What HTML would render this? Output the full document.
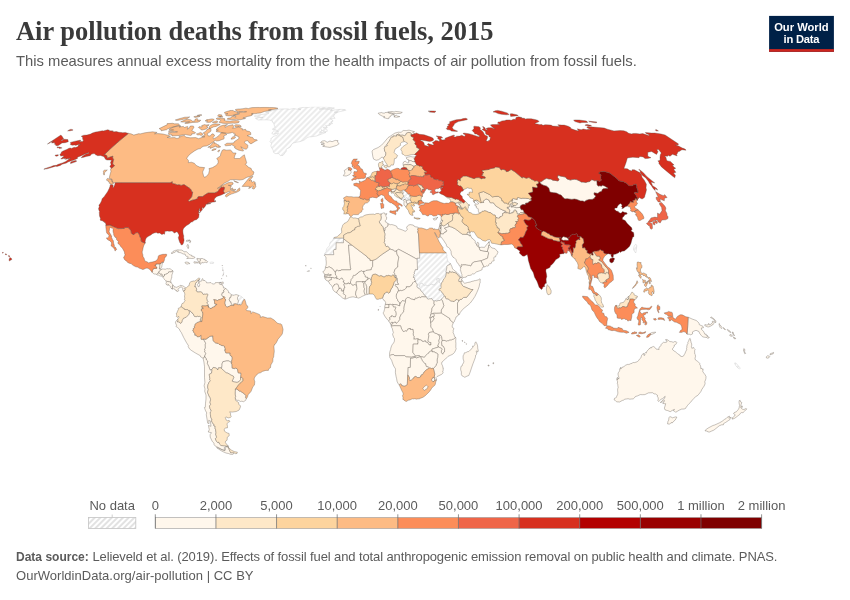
<!DOCTYPE html>
<html lang="en">
<head>
<meta charset="utf-8">
<title>Air pollution deaths from fossil fuels, 2015</title>
<style>
html,body{margin:0;padding:0;background:#fff;}
body{width:850px;height:600px;overflow:hidden;position:relative;font-family:"Liberation Sans",sans-serif;}
svg{position:absolute;left:0;top:0;}
text{font-family:"Liberation Sans",sans-serif;}
.title{font-family:"Liberation Serif",serif;font-weight:bold;font-size:26.4px;fill:#3a3a3a;}
.sub{font-size:14.8px;fill:#5b5b5b;}
.leg{font-size:13px;fill:#5b5b5b;}
.foot{font-size:13px;fill:#5b5b5b;}
#map path{stroke:#5a5048;stroke-width:0.35;stroke-linejoin:round;}
#map path.n{stroke:#d0d0d0;stroke-width:0.5;}
</style>
</head>
<body>
<svg width="850" height="600" viewBox="0 0 850 600">
<defs>
<pattern id="h" patternUnits="userSpaceOnUse" width="4" height="4" patternTransform="rotate(-45)">
<rect width="4" height="4" fill="#fff"/><line x1="0" y1="1" x2="4" y2="1" stroke="#e2e2e2" stroke-width="1.25"/>
</pattern>
<pattern id="h2" patternUnits="userSpaceOnUse" width="4" height="4" patternTransform="rotate(-45)">
<rect width="4" height="4" fill="#fff"/><line x1="0" y1="1" x2="4" y2="1" stroke="#d6d6d6" stroke-width="1.4"/>
</pattern>
<clipPath id="mc"><rect x="0" y="106.8" width="850" height="370"/></clipPath>
</defs>
<rect width="850" height="600" fill="#fff"/>
<text class="title" x="16" y="40.3" textLength="477.5" lengthAdjust="spacingAndGlyphs">Air pollution deaths from fossil fuels, 2015</text>
<text class="sub" x="16" y="66.2" textLength="620.8" lengthAdjust="spacing">This measures annual excess mortality from the health impacts of air pollution from fossil fuels.</text>
<g id="logo">
<rect x="769.1" y="15.9" width="64.8" height="35.9" fill="#002147"/>
<rect x="769.1" y="49.1" width="64.8" height="2.7" fill="#ce261e"/>
<text x="801.4" y="30.6" text-anchor="middle" font-size="11.2" font-weight="bold" fill="#fff" textLength="54.5" lengthAdjust="spacing">Our World</text>
<text x="801.5" y="42.6" text-anchor="middle" font-size="11.2" font-weight="bold" fill="#fff" textLength="36" lengthAdjust="spacing">in Data</text>
</g>
<g id="map" clip-path="url(#mc)">
<path class="n" fill="url(#h)" d="M343.7,238.1L343.6,239.1L343.5,242.8L336.2,242.7L336.1,249.4L334,249.6L333.4,250.9L333.8,254.7L324.9,254.7L324.4,255.5L324.5,254.4L324.7,253.2L325.5,252.5L326.3,251.2L326.2,250.3L327,248.4L328.3,246.8L329.1,246.4L329.7,244.8L329.8,243.4L330.7,241.8L332.2,240.9L333.7,238.2L333.6,238.1Z"/>
<path class="n" fill="url(#h)" d="M446.3,252.9L447.1,255.5L446.7,256L447.1,258.7L448.1,261.8L449,262.4L450.3,263.4L449.3,264.9L447.6,265.3L446.9,266.1L446.8,267.8L446,271.7L446.3,272.7L446,275L445.2,277.5L443.8,278.8L442.9,280.8L442.7,281.9L441.6,282.6L441,285.4L441,285.7L440.7,285.6L440.7,284.3L440.4,283.4L439.2,282.4L438.9,280.5L439.1,278.6L438,278.4L437.9,279L436.5,279.1L437.1,279.9L437.3,281.5L436.1,282.9L435,284.8L433.8,285L431,284.1L429.6,285.3L427.3,285.8L426.9,285.3L425.3,285.2L424.5,285.7L423.8,285.5L422.6,283.9L422.2,283.2L420.6,283.6L419.9,284.8L419.4,287.1L418.6,287.6L417.9,287.9L417.7,287.8L416.9,287L416.8,286.2L417.1,285.1L417.1,284L415.7,282.4L415.4,281.3L415.5,280.7L414.6,279.9L414.6,278.4L414.1,277.4L413.3,277.5L413.5,276.5L414,275.5L413.7,274.4L414.5,273.6L414,273L414.6,271.4L415.5,269.4L417.5,269.6L417.1,259.3L417.1,258.2L419.7,258.2L419.5,252.9L428.5,252.9L437.3,252.9Z"/>
<path class="n" fill="url(#h)" d="M417.9,287.9L418.6,287.6L419.4,287.1L419.9,284.8L420.6,283.6L422.2,283.2L422.6,283.9L423.8,285.5L424.5,285.7L425.3,285.2L426.9,285.3L427.3,285.8L429.6,285.3L431,284.1L433.8,285L435,284.8L436.1,282.9L437.3,281.5L437.1,279.9L436.5,279.1L437.9,279L438,278.4L439.1,278.6L438.9,280.5L439.2,282.4L440.4,283.4L440.7,284.3L440.7,285.6L441,285.7L441,285.4L441.1,287.7L440.8,288.5L439.6,288.6L438.8,290.1L440.2,290.3L441.4,291.5L441.8,292.6L442.9,293.2L444.3,296L442.8,297.7L441.4,299.3L440,300.5L438.4,300.5L436.5,301.1L435,300.5L434.1,301.2L432,299.5L431.5,298.4L430.2,298.9L429.1,298.8L428.5,299.2L427.5,298.9L426.1,296.7L425.7,295.9L424,294.9L423.3,293.3L422.4,292.2L420.8,290.8L420.8,289.9L419.5,288.9L417.9,287.9Z"/>
<path class="n" fill="url(#h)" d="M636.7,246.7L636.2,250.9L635.7,253L634.1,250.8L633.4,248.9L634.2,246.3L635.6,244.3L636.8,245.1Z"/>
<path class="n" fill="url(#h)" d="M212.4,262.1L213.5,262.3L213.9,262.8L213.2,263.4L211.5,263.4L210.2,263.5L210.2,262.4L210.5,262Z"/>
<path class="n" fill="url(#h)" d="M298.8,108.2L304,107.3L308.7,107.4L310.8,106.8L315.6,106.7L321,106.8L326.3,106.9L330.3,107.5L334.4,108.1L331.7,108.7L326.4,108.7L318.9,108.9L319.4,109.2L324.4,109L328.4,109.5L331.3,109.1L332.2,109.6L330.4,110.6L334.2,110L341.1,109.3L345.2,109.6L345.9,110.3L339.9,111.5L339,111.9L334.3,112.2L337.6,112.3L335.6,113.6L334.1,114.8L333.7,117L335.2,118.2L332.8,118.3L330.1,118.9L332.7,120L332.7,121.7L331,121.8L332.6,123.6L329.1,123.8L330.7,124.6L330.1,125.3L327.8,125.7L325.5,125.7L327.2,127.1L327,128L324,127.1L323.1,127.7L325.1,128.2L327,129.5L327.2,131.3L324.2,131.7L323.1,130.9L321.4,129.6L321.6,131.1L319.4,132.2L323.7,132.3L326,132.4L321.1,134.3L316.2,136.1L311,136.8L309.2,136.9L307.2,137.7L304.1,140.1L299.9,141.7L298.7,141.8L296.2,142.3L293.6,142.9L291.6,144.3L291,145.9L289.7,147.4L286.1,149.3L286.3,151.1L284.8,153.1L283.1,155.4L280.5,155.6L278.4,153.6L274.8,153.6L273.5,152.3L273.1,150L271.2,147.1L270.9,145.6L271.5,143.5L270,141.4L271.4,139.7L270.6,139L273.5,136.3L276.4,135.5L277.5,134.6L278.6,132.9L276.3,133.7L275.3,134L273.6,134.3L271.9,133.6L272.5,132.1L273.8,130.9L275.3,130.9L278.4,131.5L276.2,130.1L275.2,129.4L273.4,129.7L272.3,129.2L275.2,127.2L274.6,126.4L274.2,124.9L273.6,122.8L272.1,122L272.7,121.1L269.4,120L266.2,119.8L262.1,119.9L258.3,120L257,119.4L255.4,118.2L259.9,117.6L263,117.5L257,117L254.3,116.2L255.3,115.4L261.7,114.5L267.8,113.6L269,113L265.7,112.3L267.5,111.6L273.5,110.5L275.7,110.3L275.7,109.6L279.4,109.1L283.9,108.9L288.1,108.9L289.3,109.4L293.6,108.5L296.5,109.1L298.3,109.2L300.9,109.7L298.1,108.9Z"/>
<path class="n" fill="url(#h)" d="M222.1,267.8L223,267.6L222.7,268.6Z"/>
<path class="n" fill="url(#h)" d="M223.2,271.6L223.9,272L223.7,272.7Z"/>
<path class="n" fill="url(#h)" d="M406,192L407.4,192.6L407.6,193.6L408.9,194.4L409.5,193.8L410.1,194.1L409.6,194.6L410.1,195L409.6,195.6L409.9,196.5L411,197.7L410.3,198.5L410.1,199.3L410.3,199.6L410,200L409,200L408.3,200.1L408.2,200L408.5,199.6L408.7,199L408.3,199L407.9,198.6L407.5,198.4L407.2,198L406.8,197.9L406.5,197.5L406.1,197.6L405.9,198.5L405.4,198.7L405.6,198.5L404.7,197.9L404,197.7L403.7,197.3L403.1,196.9L403.6,196.7L403.8,195.5L402.7,194.5L403.1,193.4L402.3,193.4L403,192.4L402.3,191.7L401.7,190.7L403.2,190L404.5,190.2L405.7,191.2Z"/>
<path class="n" fill="url(#h)" d="M406.4,201.1L406.1,200.2L405.6,200L405.1,199.3L405.4,198.7L405.9,198.5L406.1,197.6L406.5,197.5L406.8,197.9L407.2,198L407.5,198.4L407.9,198.6L408.3,199L408.7,199L408.5,199.6L408.2,200L408.3,200.1L407.9,200.2L406.7,200.7L406.6,201.2Z"/>
<path class="n" fill="url(#h)" d="M404.5,199.5L404.4,199L403.6,200.3L403.8,201.1L403.3,200.9L402.7,200.1L401.7,199.5L401.9,199.1L402.1,197.7L402.7,197.1L403.1,196.9L403.7,197.3L404,197.7L404.7,197.9L405.6,198.5L405.4,198.7L405.1,199.3Z"/>
<path class="n" fill="url(#h)" d="M738,365.5L739.4,367.1L740.3,368.3L739.2,368.9L738.2,368.2L736.9,367L735.8,365.6L734.8,363.8L734.7,362.9L735.6,363L736.7,363.8L737.4,364.7Z"/>
<path class="n" fill="url(#h)" d="M238.7,295.4L241.2,296.3L243.6,298.5L243.9,299.5L242.5,301.9L241.8,303.9L240.9,304.9L239.8,305L239.5,304.3L239,304.2L238.2,304.9L237.2,304.4L237.2,304.4L237.8,303.3L238.1,302.1L238.5,300.9L237.6,299.4L237.5,297.6L238.7,295.4Z"/>
<path fill="#fff7ec" d="M384,231.2L382.9,226.6L381.5,225.5L381.5,224.9L379.7,223.3L379.4,221.3L380.7,219.9L381.2,217.7L380.8,215.3L381.2,213.9L383.5,212.9L385,213.2L385,214.5L386.8,213.5L386.9,214L385.9,215.3L385.9,216.5L386.7,217.2L386.5,219.4L385.1,220.7L385.6,222.1L386.7,222.2L387.3,223.4L388.2,223.8L388.1,225.8L387.1,226.6L386.4,227.4L384.9,228.4L385.2,229.5L385,230.6Z"/>
<path fill="#fff7ec" d="M419.5,252.9L419.7,258.2L417.1,258.2L417.1,259.3L407.9,254.2L398.7,249.3L396.5,250.7L394.9,251.7L393.6,250.2L390,249.1L389,247.4L387.2,246.2L386.2,246.7L385.3,245.3L385.2,244.1L383.9,242.3L384.7,241.2L384.5,239.5L384.8,238.1L384.6,236.9L384.9,234.8L384.8,233.6L384,231.2L385,230.6L385.2,229.5L384.9,228.4L386.4,227.4L387.1,226.6L388.1,225.8L388.2,223.8L390.8,224.8L391.7,224.5L393.5,225L396.5,226.1L397.6,228.4L399.7,229L402.8,230.1L405.2,231.3L406.3,230.7L407.3,229.5L406.6,227.5L407.3,226.2L408.8,225L410.2,224.6L413.3,225.1L414.1,226.3L414.9,226.3L415.6,226.8L417.8,227.1L418.4,227.9L417.7,229.2L418.2,230.3L417.7,231.9L418.5,234L419,243.3Z"/>
<path fill="#fff7ec" d="M324.4,255.5L324.9,254.7L333.8,254.7L333.4,250.9L334,249.6L336.1,249.4L336.2,242.7L343.5,242.8L343.6,238.8L352,245.2L348.5,245.2L349.5,256.5L350.5,267.7L350.9,268.1L350.4,269.9L341.2,269.9L340.9,270.5L340,270.4L338.7,270.9L337.1,270.1L336.4,270.2L336,271.7L335.2,272.2L333.7,270.4L332.3,268.5L330.9,267.8L329.8,267L328.5,267.1L327.4,267.6L326.3,267.4L325.5,268.2L325.3,266.9L326,265.6L326.3,263.1L326.1,260.5L325.9,259.2L326.1,257.9L325.6,256.7Z"/>
<path fill="#fff7ec" d="M335.2,272.2L336,271.7L336.4,270.2L337.1,270.1L338.7,270.9L340,270.4L340.9,270.5L341.2,269.9L350.4,269.9L350.9,268.1L350.5,267.7L349.5,256.5L348.5,245.2L352,245.2L359.5,250.9L367.1,256.6L367.7,257.8L369.1,258.5L370.1,259L370.2,260.6L372.7,260.4L372.7,266.4L371.5,268.1L371.3,269.7L369.3,270.1L366.2,270.4L365.3,271.3L363.8,271.4L362.4,271.4L361.8,270.9L360.6,271.3L358.4,272.4L358,273.2L356.2,274.4L355.9,275L354.9,275.6L353.8,275.2L353.2,275.8L352.9,277.6L351,279.8L351.1,280.7L350.4,281.8L350.6,283.3L349.6,283.7L349.1,284L348.7,282.9L348.1,283.2L347.7,283.2L347.3,283.9L345.5,283.9L344.9,283.5L344.6,283.7L343.9,283L344,282.2L343.7,281.9L343.2,282.2L343.3,281.3L343.8,280.6L342.8,279.6L342.6,278.8L342.1,278.2L341.6,278.2L341.1,278.6L340.3,278.9L339.7,279.5L338.7,279.3L338.1,278.6L337.7,278.5L337.1,278.8L336.7,278.8L336.6,277.9L336.7,277.1L336.6,276.1L335.7,275.3L335.3,273.9Z"/>
<path fill="#fff7ec" d="M324.8,274.9L323.8,272.9L322.7,271.9L323.7,271.4L324.9,269.6L325.5,268.2L326.3,267.4L327.4,267.6L328.5,267.1L329.8,267L330.9,267.8L332.3,268.5L333.7,270.4L335.2,272.2L335.3,273.9L335.7,275.3L336.6,276.1L336.7,277.1L336.6,277.9L336.3,278L335,277.8L334.9,278.1L334.4,278.2L332.7,277.5L331.6,277.5L327.4,277.4L326.8,277.7L326,277.6L324.8,278.1L324.4,276.1L326.5,276.1L327.1,275.7L327.5,275.7L328.4,275.1L329.3,275.7L330.3,275.7L331.3,275.1L330.9,274.4L330.1,274.8L329.4,274.8L328.5,274.1L327.8,274.2L327.3,274.8Z"/>
<path fill="#fff7ec" d="M324.4,276.1L324.8,274.9L327.3,274.8L327.8,274.2L328.5,274.1L329.4,274.8L330.1,274.8L330.9,274.4L331.3,275.1L330.3,275.7L329.3,275.7L328.4,275.1L327.5,275.7L327.1,275.7L326.5,276.1Z"/>
<path fill="#fff7ec" d="M328.3,281.6L327.1,280.5L326.1,280.3L325.6,279.6L325.6,279.2L324.9,278.6L324.8,278.1L326,277.6L326.8,277.7L327.4,277.4L331.6,277.5L331.6,278.4L331.3,278.7L331.5,279.6L331.1,279.9L330.6,279.9L330,280.3L329.3,280.3Z"/>
<path fill="#fff7ec" d="M343.6,290.3L342.9,290.3L342.5,291.3L341.8,291.3L341.4,290.7L341.5,289.7L340.6,288.1L340,288.4L339.5,288.4L338.8,288.6L338.9,287.6L338.5,286.9L338.6,286.2L338.1,285.1L337.5,284.1L335.6,284.1L335.1,284.6L334.4,284.7L334.1,285.3L333.8,286L332.5,287.2L331.5,285.6L330.7,284.6L330.1,284.2L329.5,283.7L329.3,282.6L328.9,282L328.3,281.6L329.3,280.3L330,280.3L330.6,279.9L331.1,279.9L331.5,279.6L331.3,278.7L331.6,278.4L331.6,277.5L332.7,277.5L334.4,278.2L334.9,278.1L335,277.8L336.3,278L336.6,277.9L336.7,278.8L337.1,278.8L337.7,278.5L338.1,278.6L338.7,279.3L339.7,279.5L340.3,278.9L341.1,278.6L341.6,278.2L342.1,278.2L342.6,278.8L342.8,279.6L343.8,280.6L343.3,281.3L343.2,282.2L343.7,281.9L344,282.2L343.9,283L344.6,283.7L344.1,283.9L343.9,284.8L344.4,285.9L345,288L344.1,288.3L343.9,288.7L344.1,289.2L344,290.3Z"/>
<path fill="#fff7ec" d="M336.7,292.7L336,292.5L334.4,291.4L333.2,290L332.8,289.1L332.5,287.2L333.8,286L334.1,285.3L334.4,284.7L335.1,284.6L335.6,284.1L337.5,284.1L338.1,285.1L338.6,286.2L338.5,286.9L338.9,287.6L338.8,288.6L339.5,288.4L338.4,289.7L337.3,291.1L337.2,291.8Z"/>
<path fill="#fff7ec" d="M345.2,299L344.6,299L342.3,297.8L340.2,295.8L338.2,294.4L336.7,292.7L337.2,291.8L337.3,291.1L338.4,289.7L339.5,288.4L340,288.4L340.6,288.1L341.5,289.7L341.4,290.7L341.8,291.3L342.5,291.3L342.9,290.3L343.6,290.3L343.5,291.1L343.7,292.4L343.2,293.5L343.9,294.2L344.6,294.4L345.6,295.5L345.6,296.5L345.4,296.8Z"/>
<path fill="#fff7ec" d="M356.4,297.4L355.4,297.4L353.8,296.9L352.3,296.9L349.6,297.4L348,298.1L345.7,299.1L345.2,299L345.4,296.8L345.6,296.5L345.6,295.5L344.6,294.4L343.9,294.2L343.2,293.5L343.7,292.4L343.5,291.1L343.6,290.3L344,290.3L344.1,289.2L343.9,288.7L344.1,288.3L345,288L344.4,285.9L343.9,284.8L344.1,283.9L344.6,283.7L344.9,283.5L345.5,283.9L347.3,283.9L347.7,283.2L348.1,283.2L348.7,282.9L349.1,284L349.6,283.7L350.6,283.3L351.6,283.9L352,284.7L353.1,285.3L353.9,284.6L354.9,284.5L356.5,285.2L357.1,288.9L356.1,291.1L355.5,294.1L356.5,296.3Z"/>
<path fill="#fff7ec" d="M356.5,285.2L354.9,284.5L353.9,284.6L353.1,285.3L352,284.7L351.6,283.9L350.6,283.3L350.4,281.8L351.1,280.7L351,279.8L352.9,277.6L353.2,275.8L353.8,275.2L354.9,275.6L355.9,275L356.2,274.4L358,273.2L358.4,272.4L360.6,271.3L361.8,270.9L362.4,271.4L363.8,271.4L363.7,272.7L364,273.9L365.3,275.6L365.3,276.8L368,277.4L367.9,279.2L367.4,280L366.3,280.2L365.8,281.4L365.1,281.7L363,281.6L362,281.4L361.3,281.8L360.2,281.6L356.3,281.8L356.2,283.2Z"/>
<path fill="#fff7ec" d="M365.4,294.9L361.8,296.5L360.6,297.3L358.5,298.1L356.4,297.4L356.5,296.3L355.5,294.1L356.1,291.1L357.1,288.9L356.5,285.2L356.2,283.2L356.3,281.8L360.2,281.6L361.3,281.8L362,281.4L363,281.6L362.9,282.4L363.8,283.8L363.9,285.7L364.1,287.7L364.6,288.7L364.1,291L364.3,292.4L364.9,294Z"/>
<path fill="#fff7ec" d="M367.3,294.4L365.4,294.9L364.9,294L364.3,292.4L364.1,291L364.6,288.7L364.1,287.7L363.9,285.7L363.8,283.8L362.9,282.4L363,281.6L365.1,281.7L364.8,283.1L365.5,283.8L366.3,284.7L366.4,286L366.8,286.6L366.7,292.6Z"/>
<path fill="#fff7ec" d="M369.2,294L367.3,294.4L366.7,292.6L366.8,286.6L366.4,286L366.3,284.7L365.5,283.8L364.8,283.1L365.1,281.7L365.8,281.4L366.3,280.2L367.4,280L367.9,279.2L368.7,278.5L369.5,278.4L371.3,279.9L371.2,280.8L371.7,282.4L371.3,283.4L371.5,284.1L370.4,285.7L369.7,286.5L369.3,288.2L369.3,289.8Z"/>
<path fill="#fff7ec" d="M367.9,279.2L368,277.4L365.3,276.8L365.3,275.6L364,273.9L363.7,272.7L363.8,271.4L365.3,271.3L366.2,270.4L369.3,270.1L371.3,269.7L371.5,268.1L372.7,266.4L372.7,260.4L375.9,259.2L382.4,254.1L390,249.1L393.6,250.2L394.9,251.7L396.5,250.7L397.1,254.7L398,255.4L398.1,256.3L399,257.1L398.6,258.3L397.8,263.6L397.8,267L394.9,269.4L394,272.9L394.9,273.8L394.9,275.5L396.4,275.6L396.2,276.8L395.5,277L395.5,277.8L395.1,277.9L393.5,275L392.9,274.9L391.2,276.3L389.4,275.6L388.2,275.4L387.5,275.8L386.1,275.7L384.8,276.8L383.6,276.9L380.9,275.6L379.8,276.2L378.6,276.1L377.8,275.2L375.4,274.2L373,274.5L372.4,275.1L372.1,276.5L371.4,277.6L371.3,279.9L369.5,278.4L368.7,278.5Z"/>
<path fill="#fff7ec" d="M396.2,276.8L396.4,275.6L394.9,275.5L394.9,273.8L394,272.9L394.9,269.4L397.8,267L397.8,263.6L398.6,258.3L399,257.1L398.1,256.3L398,255.4L397.1,254.7L396.5,250.7L398.7,249.3L407.9,254.2L417.1,259.3L417.5,269.6L415.5,269.4L414.6,271.4L414,273L414.5,273.6L413.7,274.4L414,275.5L413.5,276.5L413.3,277.5L414.1,277.4L414.6,278.4L414.6,279.9L415.5,280.7L415.4,281.3L414,281.7L412.9,282.8L411.3,285.6L409.1,286.9L406.9,286.7L406.2,286.9L406.5,287.9L405.3,288.8L404.3,289.8L401.4,290.8L400.9,290.2L400.5,290.2L400.1,290.8L398.2,291L398.5,290.3L397.8,288.5L397.4,287.4L396.4,287L395.1,285.5L395.5,284.2L396.6,284.5L397.2,284.3L398.5,284.3L397.2,282L397.3,280.2L397.1,278.5Z"/>
<path fill="#fff7ec" d="M396.2,276.8L397.1,278.5L397.3,280.2L397.2,282L398.5,284.3L397.2,284.3L396.6,284.5L395.5,284.2L395.1,285.5L396.4,287L397.4,287.4L397.8,288.5L398.5,290.3L398.2,291L397,293.7L396.5,294.1L396.3,296.2L396.5,297.3L396.4,298L397.5,299.4L397.7,300.3L398.5,301.7L399.6,302.5L399.7,303.7L399.9,304.5L399.8,305.9L397.9,305.3L396.1,304.6L393.2,304.5L392.9,304.3L391.5,304.7L390.1,304.3L389,304.5L385.3,304.4L385.6,302.4L384.7,300.7L383.6,300.2L383.1,299L382.6,298.6L382.6,297.9L383.2,296.1L384.3,293.6L384.9,293.6L386.3,292L387.2,292L388.5,293.1L390,292.2L390.2,291.1L390.7,290L391.1,288.7L392.3,287.6L392.8,285.8L393.3,285.2L393.6,283.9L394.1,282.2L396.1,280.2L396.2,279.3L396.4,278.8L395.5,277.8L395.5,277Z"/>
<path fill="#fff7ec" d="M398.2,291L400.1,290.8L400.5,290.2L400.9,290.2L401.4,290.8L404.3,289.8L405.3,288.8L406.5,287.9L406.2,286.9L406.9,286.7L409.1,286.9L411.3,285.6L412.9,282.8L414,281.7L415.4,281.3L415.7,282.4L417.1,284L417.1,285.1L416.8,286.2L416.9,287L417.7,287.8L419.5,288.9L420.8,289.9L420.8,290.8L422.4,292.2L423.3,293.3L424,294.9L425.7,295.9L426.1,296.7L425.3,297L423.8,296.9L422.1,296.7L421.2,296.9L420.9,297.5L420.2,297.6L419.2,297.1L416.7,298.4L415.6,298.1L415.3,298.3L414.7,299.9L412.9,299.4L411.2,299.1L409.8,298.1L407.9,297.3L406.6,298.1L405.7,299.4L405.5,301.3L404.1,301.1L402.5,300.7L401.1,302L399.9,304.5L399.7,303.7L399.6,302.5L398.5,301.7L397.7,300.3L397.5,299.4L396.4,298L396.5,297.3L396.3,296.2L396.5,294.1L397,293.7Z"/>
<path fill="#fff7ec" d="M385.3,304.4L389,304.5L389,307.6L385.7,307.6L384.9,307.8L384.5,307.4Z"/>
<path fill="#fff7ec" d="M389,304.5L390.1,304.3L391.5,304.7L392.9,304.3L393.2,304.5L393,305.6L393.6,307L395.4,306.7L395.9,307.3L394.9,310.3L396,311.8L396.3,313.9L396,315.6L395.3,316.9L393.2,316.7L392,315.5L391.8,316.6L390.3,317L389.5,317.6L390.3,319.4L388.6,320.8L386.2,318.2L384.7,316L383.3,313.3L383.4,312.4L383.9,311.6L384.4,309.7L384.9,307.8L385.7,307.6L389,307.6Z"/>
<path fill="#fff7ec" d="M388.6,320.8L390.3,319.4L389.5,317.6L390.3,317L391.8,316.6L392,315.5L393.2,316.7L395.3,316.9L396,315.6L396.3,313.9L396,311.8L394.9,310.3L395.9,307.3L395.4,306.7L393.6,307L393,305.6L393.2,304.5L396.1,304.6L397.9,305.3L399.8,305.9L399.9,304.5L401.1,302L402.5,300.7L404.1,301.1L405.5,301.3L405.4,302.8L404.7,304.2L404.3,305.9L404,308.2L404.1,309.6L403.7,310.6L403.7,311.5L403.4,312.3L401.9,313.6L400.9,314.9L399.8,317.5L399.9,319.6L399.3,320.5L398,321.7L396.6,323.4L395.7,322.9L395.6,322.2L394.3,322.2L393.6,323.1L392.9,322.9L392.1,322L391.4,322.4L390.4,323.6Z"/>
<path fill="#fff7ec" d="M378,309.6L378.6,309.4L378.5,310.3L378,310.3ZM380,306.2L380.2,306L380.2,306.4Z"/>
<path fill="#fff7ec" d="M308.9,270.4L309.4,271.2L308.6,271.5ZM305.4,265.7L306.1,265.5L306.1,266.1ZM307.3,271.5L307.5,271.1L307,271.2ZM310.7,268.1L311.2,268.1L311,268.6Z"/>
<path fill="#fff7ec" d="M434.1,301.2L434,304.3L434.9,304.7L434.2,305.6L433.3,306.3L432.4,307.6L431.9,308.8L431.8,310.9L431.3,311.9L431.2,313.9L430.6,314.6L430.5,316.2L430.2,316.4L429.9,317.8L430.5,319L430.6,322.2L431,324.6L430.8,325.9L431.2,327.4L432.5,328.9L433.7,332.2L432.8,331.9L429.7,332.4L429.1,332.7L428.4,334.3L428.9,335.5L428.4,338.6L428,341.2L428.7,341.7L430.2,342.7L430.9,342.2L431,345L429.2,345L428.3,343.6L427.5,342.4L425.8,342.1L425.3,340.7L423.9,341.5L422,341.2L421.3,340L419.8,339.8L418.8,339.8L418.7,339L417.9,338.9L416.8,338.8L415.4,339.2L414.4,339.1L413.8,339.3L414,336.2L413.3,335.3L413.1,333.7L413.5,332.1L413,331.1L413,329.4L410.2,329.5L410.4,328.5L409.2,328.5L409.1,329L407.7,329.1L407.1,330.6L406.7,331.3L405.5,330.9L404.7,331.3L403.2,331.5L402.3,330.1L401.8,329.3L401.1,327.7L400.6,325.8L393.8,325.7L393,326L392.3,326L391.4,326.3L391.1,325.5L391.7,325.2L391.7,324.1L392.1,323.4L392.9,322.9L393.6,323.1L394.3,322.2L395.6,322.2L395.7,322.9L396.6,323.4L398,321.7L399.3,320.5L399.9,319.6L399.8,317.5L400.9,314.9L401.9,313.6L403.4,312.3L403.7,311.5L403.7,310.6L404.1,309.6L404,308.2L404.3,305.9L404.7,304.2L405.4,302.8L405.5,301.3L405.7,299.4L406.6,298.1L407.9,297.3L409.8,298.1L411.2,299.1L412.9,299.4L414.7,299.9L415.3,298.3L415.6,298.1L416.7,298.4L419.2,297.1L420.2,297.6L420.9,297.5L421.2,296.9L422.1,296.7L423.8,296.9L425.3,297L426.1,296.7L427.5,298.9L428.5,299.2L429.1,298.8L430.2,298.9L431.5,298.4L432,299.5Z"/>
<path fill="#fff7ec" d="M400.6,325.8L401.1,327.7L401.8,329.3L402.3,330.1L403.2,331.5L404.7,331.3L405.5,330.9L406.7,331.3L407.1,330.6L407.7,329.1L409.1,329L409.2,328.5L410.4,328.5L410.2,329.5L413,329.4L413,331.1L413.5,332.1L413.1,333.7L413.3,335.3L414,336.2L413.8,339.3L414.4,339.1L415.4,339.2L416.8,338.8L417.9,338.9L418.1,339.8L417.8,341L418.2,342.2L417.8,343.2L418,344.1L413.2,344.1L412.9,352.4L414.4,354.5L415.8,356.2L411.6,357.2L406.1,356.9L404.6,355.6L395.3,355.7L395,355.9L393.7,354.7L392.2,354.6L390.8,355.1L389.7,355.6L389.5,353.9L389.9,351.6L390.7,349.3L390.8,348.1L391.6,345.8L392.2,344.7L393.5,343L394.2,341.8L394.5,339.9L394.4,338.4L393.7,337.5L393.1,335.9L392.6,334.4L392.7,333.8L393.4,332.8L392.7,330.3L392.3,328.5L391.2,326.8L391.4,326.3L392.3,326L393,326L393.8,325.7ZM391.7,325.2L391.1,325.5L390.4,323.6L391.4,322.4L392.1,322L392.9,322.9L392.1,323.4L391.7,324.1Z"/>
<path fill="#fff7ec" d="M438.3,334.5L439.3,335.7L439.9,337.9L439.5,338.6L438.9,340.7L439.3,342.9L438.6,343.8L437.8,346.2L439,346.9L432,349.1L432.1,350.9L430.4,351.3L429,352.3L428.7,353.2L427.9,353.4L425.8,355.6L424.5,357.3L423.7,357.3L423,357L420.5,356.7L420.1,356.5L420.1,356.3L419.2,355.7L417.7,355.6L415.8,356.2L414.4,354.5L412.9,352.4L413.2,344.1L418,344.1L417.8,343.2L418.2,342.2L417.8,341L418.1,339.8L417.9,338.9L418.7,339L418.8,339.8L419.8,339.8L421.3,340L422,341.2L423.9,341.5L425.3,340.7L425.8,342.1L427.5,342.4L428.3,343.6L429.2,345L431,345L430.9,342.2L430.2,342.7L428.7,341.7L428,341.2L428.4,338.6L428.9,335.5L428.4,334.3L429.1,332.7L429.7,332.4L432.8,331.9L433.7,332.2L434.6,332.8L435.6,333.3L437,333.7Z"/>
<path fill="#fff7ec" d="M442.3,340.5L441.6,342.5L442.1,345.9L442.9,345.8L443.7,346.7L444.6,348.6L444.6,351.9L443.6,352.5L442.8,354.3L441.4,352.7L441.3,350.8L441.9,349.6L441.8,348.6L440.9,347.9L440.2,348.1L439,346.9L437.8,346.2L438.6,343.8L439.3,342.9L438.9,340.7L439.5,338.6L439.9,337.9L439.3,335.7L438.3,334.5L440.5,335L441,335.7L441.7,336.9Z"/>
<path fill="#fff7ec" d="M442.3,340.5L444,340.3L446.7,341L447.3,340.7L448.9,340.6L449.8,339.8L451.2,339.9L453.7,338.9L455.6,337.4L455.9,338.5L455.7,341.1L455.9,343.4L455.8,347.5L456.2,348.8L455.4,350.7L454.4,352.5L452.9,354.1L450.8,355.1L448.1,356.3L445.4,359.1L444.5,359.6L442.8,361.5L441.9,362.1L441.6,363.9L442.6,365.9L442.9,367.4L442.9,368.2L443.3,368.1L443.1,370.7L442.6,371.9L443.2,372.3L442.7,373.4L441.7,374.3L439.9,375.2L437,376.6L436,377.6L436.1,378.7L436.7,378.9L436.4,380.2L434.7,380.2L434.6,379.1L434.3,377.9L434.2,377L434.8,374.1L434.3,372.2L433.4,368.5L435.9,365.6L436.6,363.7L437,363.4L437.3,361.9L437,361.1L437.2,359.2L437.7,357.4L437.9,354L436.7,353.2L435.6,353L435.2,352.4L434.1,351.8L432.2,351.9L432.1,350.9L432,349.1L439,346.9L440.2,348.1L440.9,347.9L441.8,348.6L441.9,349.6L441.3,350.8L441.4,352.7L442.8,354.3L443.6,352.5L444.6,351.9L444.6,348.6L443.7,346.7L442.9,345.8L442.1,345.9L441.6,342.5Z"/>
<path fill="#fff7ec" d="M433.4,368.5L432.2,368.3L431.4,368.6L430.4,368.1L429.4,368.1L428.1,366.9L426.3,366.5L425.7,364.9L425.8,363.9L424.8,363.7L422.4,360.8L421.7,359.3L421.3,358.8L420.5,356.7L423,357L423.7,357.3L424.5,357.3L425.8,355.6L427.9,353.4L428.7,353.2L429,352.3L430.4,351.3L432.1,350.9L432.2,351.9L434.1,351.8L435.2,352.4L435.6,353L436.7,353.2L437.9,354L437.7,357.4L437.2,359.2L437,361.1L437.3,361.9L437,363.4L436.6,363.7L435.9,365.6Z"/>
<path fill="#fff7ec" d="M429.4,368.1L426.2,370L424.1,372L423.2,373.7L422.5,374.7L421.3,374.9L420.8,376.1L420.5,377L419.1,377.6L417.3,377.5L416.2,376.7L415.3,376.4L414.2,377L413.6,378.3L412.5,379L411.3,380.2L409.7,380.5L409.2,379.6L409.5,378L408.3,375.5L407.7,375.1L407.9,367.5L410.2,367.4L410.5,358.1L412.2,358L415.8,357.1L416.6,358.1L418.1,357.1L418.8,357.1L420.1,356.5L420.5,356.7L421.3,358.8L421.7,359.3L422.4,360.8L424.8,363.7L425.8,363.9L425.7,364.9L426.3,366.5L428.1,366.9Z"/>
<path fill="#fff7ec" d="M399.3,385.1L397.8,383.1L397,381.2L396.6,378.6L396.1,376.7L395.4,372.7L395.5,369.6L395.2,368.2L394.3,367.1L393.2,364.9L392.1,361.8L391.6,360.2L389.8,357.6L389.7,355.6L390.8,355.1L392.2,354.6L393.7,354.7L395,355.9L395.3,355.7L404.6,355.6L406.1,356.9L411.6,357.2L415.8,356.2L417.7,355.6L419.2,355.7L420.1,356.3L420.1,356.5L418.8,357.1L418.1,357.1L416.6,358.1L415.8,357.1L412.2,358L410.5,358.1L410.2,367.4L407.9,367.5L407.7,375.1L407.3,384.7L405.2,386.1L404,386.3L402.7,385.8L401.7,385.6L401.3,384.5L400.5,383.7Z"/>
<path fill="#fff7ec" d="M434.7,380.2L434.2,381.4L432.8,381.7L431.6,380.2L431.6,379.4L432.3,378.4L432.6,377.6L433.2,377.4L434.3,377.9L434.6,379.1Z"/>
<path fill="#fff7ec" d="M476.5,343L477.1,344.1L477.6,345.8L477.8,349L478.3,350.2L478,351.4L477.5,352.2L476.8,350.7L476.3,351.4L476.7,353.4L476.4,354.5L475.7,355.1L475.4,357.3L474.3,360.3L472.9,363.9L471.2,368.9L470,372.5L468.8,375.5L466.9,376.2L464.8,377.3L463.6,376.6L461.9,375.7L461.3,374.3L461.4,372L460.7,369.9L460.7,368L461.2,366.1L462.3,365.7L462.3,364.8L463.5,362.8L463.9,361.2L463.4,359.9L463.1,358.3L463.1,355.9L463.9,354.4L464.4,352.8L465.5,352.7L466.8,352.1L467.7,351.6L468.7,351.6L470.1,350.1L472,348.5L472.8,347.2L472.5,346.1L473.5,346.4L474.8,344.6L474.9,343L475.8,341.8Z"/>
<path fill="#fff7ec" d="M441.2,312.9L441.6,313.2L449.9,318.5L450.1,320L453.3,322.6L452.2,325.8L452.3,327.3L453.8,328.3L453.8,328.9L453.2,330.5L453.3,331.3L453.1,332.6L453.9,334.2L454.7,336.8L455.6,337.4L453.7,338.9L451.2,339.9L449.8,339.8L448.9,340.6L447.3,340.7L446.7,341L444,340.3L442.3,340.5L441.7,336.9L441,335.7L440.5,335L438.3,334.5L437,333.7L435.6,333.3L434.6,332.8L433.7,332.2L432.5,328.9L431.2,327.4L430.8,325.9L431,324.6L430.6,322.2L431.6,322L432.4,321.1L433.3,319.7L433.9,319.2L433.9,318.3L433.4,317.7L433.3,316.7L434,316.4L434.1,314.8L433.2,313.4L434,313L436.5,313.1Z"/>
<path fill="#fff7ec" d="M457.6,312.6L458.9,314.8L457.3,315.8L456.7,316.9L455.9,317.1L455.5,319L454.8,320L454.3,321.8L453.3,322.6L450.1,320L449.9,318.5L441.6,313.2L441.2,312.9L441.2,310.1L441.9,309L443,307.3L443.8,305.4L442.8,302.4L442.5,301.1L441.4,299.3L442.8,297.7L444.3,296L445.5,296.5L445.5,297.9L446.3,298.8L448,298.8L450.9,301L451.6,301L452.2,300.9L452.7,301.3L454.2,301.5L454.9,300.4L457,299.3L457.9,300.2L459.5,300.2L457.5,303.1Z"/>
<path fill="#fff7ec" d="M436.5,313.1L434,313L433.2,313.4L431.8,314.2L431.2,313.9L431.3,311.9L431.8,310.9L431.9,308.8L432.4,307.6L433.3,306.3L434.2,305.6L434.9,304.7L434,304.3L434.1,301.2L435,300.5L436.5,301.1L438.4,300.5L440,300.5L441.4,299.3L442.5,301.1L442.8,302.4L443.8,305.4L443,307.3L441.9,309L441.2,310.1L441.2,312.9Z"/>
<path fill="#fff7ec" d="M433.2,313.4L434.1,314.8L434,316.4L433.3,316.7L432.1,316.5L431.3,318L429.9,317.8L430.2,316.4L430.5,316.2L430.6,314.6L431.2,313.9L431.8,314.2Z"/>
<path fill="#fff7ec" d="M430.6,322.2L430.5,319L429.9,317.8L431.3,318L432.1,316.5L433.3,316.7L433.4,317.7L433.9,318.3L433.9,319.2L433.3,319.7L432.4,321.1L431.6,322Z"/>
<path fill="#fff7ec" d="M460,277.6L459.2,276.8L458.2,275.3L457.2,274.4L456.5,273.5L454.5,272.5L452.9,272.4L452.3,271.9L451,272.5L449.6,271.3L449,273.3L446.3,272.7L446,271.7L446.8,267.8L446.9,266.1L447.6,265.3L449.3,264.9L450.3,263.4L451.8,266.4L452.6,268.8L453.9,270.1L457.1,272.6L458.5,274L459.8,275.6L460.5,276.4L461.7,277.2L461,277.9Z"/>
<path fill="#fff7ec" d="M461.7,277.2L462.3,278L462.2,279.1L461,279.7L462,280.5L461.2,281.9L460.6,281.4L460.1,281.6L458.8,281.5L458.7,280.7L458.5,280L459.3,278.8L460,277.6L461,277.9Z"/>
<path fill="#fff7ec" d="M477,280.2L478.3,279.9L479.3,279L480.2,279L480.2,279.7L480.1,281.2L480.2,282.6L479.7,283.5L479.2,286.4L478.2,289.3L476.8,292.6L474.9,296.5L473,299.4L470.4,302.9L468.1,305L464.7,307.7L462.5,309.6L460,312.8L459.5,314.2L458.9,314.8L457.6,312.6L457.5,303.1L459.5,300.2L460.1,299.4L461.6,299.3L463.6,297.4L466.6,297.3L472.9,289.5L471,289.5L463.4,286.4L462.5,285.5L461.6,284.2L460.7,282.8L461.2,281.9L462,280.5L462.7,280.9L463.2,282L464.3,283.1L465.4,283.1L467.6,282.5L470.1,282.1L472,281.3L473.2,281.2L474,280.7L475.3,280.6L476,280.5Z"/>
<path fill="#fff7ec" d="M462.2,340.2L462.6,340.6L462.5,341.5L462.2,341.1ZM464.4,342.1L465,342.3L464.9,342.7ZM466.2,343.6L466.6,343.8L466.4,344.4Z"/>
<path fill="#fff7ec" d="M493,362.6L493.9,362.9L493.5,363.8L492.9,363.7Z"/>
<path fill="#fff7ec" d="M488,365.1L489,365.1L489.1,366L488.1,366Z"/>
<path fill="#fff7ec" d="M495.8,217.3L495.1,215.1L493.5,215L490.5,212.7L488.7,212.4L486.1,211.1L484.5,210.8L483.6,211.3L482.2,211.3L481,212.8L479.2,213.2L478.4,211.4L478.2,208.7L476.3,207.8L476.5,206L475,205.9L475,203.7L477.2,204.3L478.8,203.5L476.9,201.9L476,200.5L474.4,201.1L474.6,203L473.6,201.4L474.3,200.5L476.6,200L478.2,200.7L480.2,202.7L481.2,202.6L483.6,202.5L482.9,201.2L484.5,200.3L485.9,198.8L489.1,200.2L489.8,202.3L490.8,202.8L493,202.7L493.9,203.2L495.6,205.8L498.5,207.6L500.2,208.8L502.8,210.1L505.9,211.2L506.2,212.8L505.6,212.8L504.4,212L504.3,213L502.6,213.5L502.6,215.6L501.6,216.3L500,216.7L499.8,217.9L498.2,218.3Z"/>
<path fill="#fff7ec" d="M512.1,200.1L512.2,199L513.5,198.6L517.2,199.5L517,198L518,197.4L521.4,198.5L522,198.2L525.5,198.3L528.7,198.6L530.1,199.5L531.6,199.9L531.5,200.5L528.6,201.9L528.2,202.9L525.6,203.2L525.4,204.8L523,204.5L521.7,205L520.1,206.2L520.5,206.8L520.1,207.4L516.2,207.8L513.3,207L511,207.2L510.8,205.7L513.3,206.1L513.8,205.3L515.5,205.6L517.7,203.7L514.7,202.4L513.4,203L511.6,202L512.8,200.3Z"/>
<path fill="#fff7ec" d="M513.8,205.3L513.3,206.1L510.8,205.7L511,207.2L513.3,207L516.2,207.8L520.1,207.4L521.3,209.8L522,209.6L523.4,210.2L523.7,211.2L524.4,212.7L522.2,212.7L520.6,212.5L519.6,213.6L518.7,213.9L518.1,214.4L517,213.6L516.7,211.4L516,211.3L516,210.5L514.7,209.9L514,210.8L514,211.8L513.8,212.2L512.5,212.2L512.1,213.4L511.3,212.9L509.9,213.7L509.2,213.4L509.7,210.7L508.8,208.8L507,208.2L507.3,207.1L509.1,207.2L509.7,205.7L509.9,204.1L512.5,203.5L512.4,204.7L513,205.4Z"/>
<path fill="#fff7ec" d="M567.4,237.9L568.5,238.7L568.7,240.3L566.9,240.4L565,240.2L563.6,240.6L561.4,239.6L561.3,239.1L562.3,237.2L563.4,236.5L565.1,237.1L566.3,237.2Z"/>
<path fill="#fff7ec" d="M626.2,298.6L627.1,297.6L629,296.2L628.9,297.4L628.9,299.1L627.8,299L627.3,299.9Z"/>
<path fill="#fff7ec" d="M650.3,333.6L650.6,333L652.6,332.4L654.2,332.3L655,332L655.8,332.3L654.9,333L652.4,334.2L650.4,334.9L650.5,334.1Z"/>
<path fill="#fff7ec" d="M539.6,182.1L541.5,181.6L544.2,179.5L546.6,178.3L548.8,179L550.9,179.1L552.9,180.3L554.9,180.4L558.1,181L559.1,179.2L557.5,177.8L558,175.2L560.9,176.2L562.8,176.5L565.5,177.1L567,179L570.5,180.1L572.1,179.6L574.4,179.3L576.6,179.6L579.3,180.8L581.3,182.1L583.1,182.1L585.9,182.5L587.4,181.9L589.8,181.5L591.6,179.7L593,179.9L594.6,180.8L596.8,180.6L597,182.5L597.2,185L598.3,186.1L599.3,185.8L601.5,186.1L602.5,185.2L604.6,186L607.6,187.8L607.9,188.7L606.1,188.4L603.3,188.8L602.3,189.5L601.8,191.2L599.2,192.2L597.9,193.5L595.5,193L594.2,192.8L594,194.4L595.2,195.4L596,196.3L595,197.1L594.2,198.5L592.2,199.4L589.1,199.5L586.2,200.4L584.3,201.8L583,201L580.5,201L576.7,199.5L574.4,199.1L571.8,199.4L567.2,198.8L564.9,198.9L563,197.4L561,195L559.6,194.7L556.3,193.1L553.4,192.7L550.7,192.3L549.5,191.2L548.9,188.2L546.6,186.2L543.2,185.2L540.9,183.9Z"/>
<path fill="#fff7ec" d="M152.2,272.4L152.3,271.7L152.7,271.1L152.4,270.6L153.7,268.4L156.7,268.4L156.8,267.5L156.5,267.4L156.3,266.8L155.5,266.2L154.8,265.3L155.8,265.3L156,263.9L158.1,263.9L160.2,263.9L159.9,265.9L159.4,268.9L160.1,268.9L160.8,269.4L161,269L161.7,269.3L160.5,270.3L159.4,271L159.1,271.6L159.3,272.1L158.7,272.7L158.2,272.9L158.3,273.2L157.8,273.5L157,274.1L156.9,274.5L155.7,274.1L154.3,274L153.3,273.5Z"/>
<path fill="#fff7ec" d="M160.2,263.9L160.2,263.5L160.5,263.4L160.9,263.7L161.9,262.1L162.4,262.1L162.3,262.5L162.7,262.5L162.6,263.2L162.1,264.3L162.3,264.7L161.9,265.7L162,265.9L161.6,267.2L161.1,267.9L160.7,268L160.1,268.9L159.4,268.9L159.9,265.9Z"/>
<path fill="#fff7ec" d="M156.9,274.5L157,274.1L157.8,273.5L158.3,273.2L158.2,272.9L158.7,272.7L159.4,272.9L159.8,273.5L160.5,273.9L160.6,274.2L161.6,273.9L162,274.1L162.3,274.4L162.1,275.5L161.8,276.1L160.4,276L159.6,275.8L158.7,275.2L157.5,275.1Z"/>
<path fill="#fff7ec" d="M163,276.5L162.7,275.7L162.1,275.5L162.3,274.4L162,274.1L161.6,273.9L160.6,274.2L160.5,273.9L159.8,273.5L159.4,272.9L158.7,272.7L159.3,272.1L159.1,271.6L159.4,271L160.5,270.3L161.7,269.3L161.9,269.4L162.5,269L163.1,268.9L163.3,269.1L163.7,269L164.7,269.2L165.8,269.2L166.5,268.9L166.8,268.6L167.5,268.7L168.1,268.9L168.7,268.8L169.2,268.6L170.1,269L170.5,269L171.2,269.5L171.8,270.1L172.5,270.5L173.1,271.2L172.3,271.2L171.9,271.5L171.1,271.9L170.5,271.9L170,272.2L169.6,272.1L169.2,271.7L169,271.8L168.6,272.4L168.4,272.4L168.3,272.9L167.4,273.6L167,273.9L166.7,274.2L166.1,273.7L165.5,274.4L165.1,274.4L164.5,274.5L164.5,275.8L164.1,275.8L163.8,276.4Z"/>
<path fill="#fff7ec" d="M166.3,281.4L165.6,280.6L164.6,279.6L164.2,278.7L163.3,277.9L162.2,276.7L162.5,276.3L162.9,276.7L163,276.5L163.8,276.4L164.1,275.8L164.5,275.8L164.5,274.5L165.1,274.4L165.5,274.4L166.1,273.7L166.7,274.2L167,273.9L167.4,273.6L168.3,272.9L168.4,272.4L168.6,272.4L169,271.8L169.2,271.7L169.6,272.1L170,272.2L170.5,271.9L171.1,271.9L171.9,271.5L172.3,271.2L173.1,271.2L172.9,271.5L172.7,272.1L172.8,273L172.2,273.9L171.9,275L171.7,276.1L171.8,276.8L171.7,278L171.4,278.2L171.1,279.3L171.2,280L170.6,280.7L170.7,281.4L171,281.8L170.4,282.4L169.8,282.2L169.4,281.7L168.7,281.5L168.2,281.8L166.7,281.1Z"/>
<path fill="#fff7ec" d="M172.2,288.9L171,288.3L170.5,287.8L170.8,287.3L170.8,286.8L170.2,286.1L169.3,285.6L168.5,285.3L168.4,284.5L167.8,284L168,284.8L167.5,285.4L167,284.7L166.3,284.5L166,283.9L166,283.1L166.4,282.3L165.8,281.9L166.3,281.4L166.7,281.1L168.2,281.8L168.7,281.5L169.4,281.7L169.8,282.2L170.4,282.4L171,281.8L171.5,283.2L172.3,284.3L173.3,285.4L172.5,285.6L172.4,286.7L172.9,287.1L172.5,287.4L172.6,287.9L172.3,288.4Z"/>
<path fill="#fff7ec" d="M183.8,291.5L183,290.8L182.6,289.4L183.2,288.7L182.6,288.5L182.3,287.6L181.1,286.9L180.1,287.1L179.6,288L178.7,288.6L178.2,288.7L177.9,289.3L178.9,290.7L178.3,291L177.9,291.4L176.8,291.5L176.5,290L176.2,290.4L175.5,290.3L175,289.2L174.1,289L173.5,288.7L172.5,288.7L172.4,289.3L172.2,288.9L172.3,288.4L172.6,287.9L172.5,287.4L172.9,287.1L172.4,286.7L172.5,285.6L173.3,285.4L174.1,286.3L174,286.9L175,287L175.2,286.8L175.8,287.4L176.9,287.3L177.9,286.6L179.4,286.1L180.2,285.3L181.4,285.5L181.3,285.7L182.6,285.8L183.6,286.2L184.3,287L185.2,287.8L184.9,288.1L185.3,289.7L184.9,290.4L184.1,290.3Z"/>
<path fill="#fff7ec" d="M177.6,249.8L179.6,250L181.3,250L183.3,250.9L184.1,251.9L186.2,251.6L187,252.2L188.7,253.8L190,255L190.7,255L192,255.5L191.7,256.2L193.4,256.4L195,257.4L194.6,258L193.1,258.4L191.6,258.5L190,258.3L186.7,258.5L188.4,257.1L187.6,256.4L186.1,256.2L185.5,255.5L185.1,254L183.8,254.1L181.8,253.4L181.2,252.8L178.3,252.4L177.6,251.9L178.5,251.3L176.3,251.1L174.5,252.5L173.6,252.5L173.2,253.2L172,253.5L171.1,253.2L172.4,252.4L173,251.4L174.1,250.9L175.3,250.4L177.1,250.1Z"/>
<path fill="#fff7ec" d="M197.1,258.4L198.5,258.5L200.4,258.9L200.4,260.3L200.2,261.3L199.5,261.8L200.1,262.5L199.9,263.3L198.5,262.8L197.4,263L196,262.8L194.9,263.3L193.8,262.5L194.1,261.7L196.1,262L197.8,262.2L198.7,261.6L197.8,260.5L197.9,259.5L196.5,259.1Z"/>
<path fill="#fff7ec" d="M200.4,258.9L200.7,258.5L202.5,258.5L203.8,259.2L204.4,259.1L204.7,260L205.9,260L205.8,260.7L206.8,260.8L207.8,261.8L206.8,262.8L205.8,262.3L204.8,262.4L204,262.3L203.6,262.7L202.7,262.9L202.4,262.3L201.6,262.7L200.5,264.4L200,264L199.9,263.3L200.1,262.5L199.5,261.8L200.2,261.3L200.4,260.3Z"/>
<path fill="#fff7ec" d="M186.7,262.1L188.2,262.3L189.4,263L189.7,263.7L188.1,263.7L187.3,264.2L186.1,263.7L184.9,262.8L185.3,262.2L186.2,262Z"/>
<path fill="#fff7ec" d="M188.5,248.3L187.9,248.5L187.6,247L186.8,246.2L187.5,244.6L188.2,244.7L188.7,246.8ZM189,241L186.4,241.4L186.5,240.4L187.5,240.2L189,240.3ZM190.8,240.9L190.1,242.8L189.7,242.5L190,241.1L189.2,240.1L189.2,239.8Z"/>
<path fill="#fff7ec" d="M221.4,282.3L222.8,282L223.2,282L223.1,284L221.1,284.3L220.7,284L221.4,283.3Z"/>
<path fill="#fff7ec" d="M338,140.6L337.4,142.1L339.2,143.6L336.7,145.4L331.4,147L329.8,147.4L327.5,147.1L322.7,146.3L324.6,145.3L321,144.2L324.2,143.7L324.2,143.1L320.6,142.5L322.1,141L324.8,140.7L327.2,142.3L330,141L332.1,141.7L335.1,140.4Z"/>
<path fill="#fff7ec" d="M222,265.6L222.5,265.6L222.4,266Z"/>
<path fill="#fff7ec" d="M222.7,269.7L223.2,269.9L222.9,270.6Z"/>
<path fill="#fff7ec" d="M223.4,273.7L223.7,273.8L223.4,274.5Z"/>
<path fill="#fff7ec" d="M222.8,275.5L223,275.7L222.9,276.1Z"/>
<path fill="#fff7ec" d="M226.5,275.7L226.9,276.1L226.5,276.3Z"/>
<path fill="#fff7ec" d="M221.5,278.5L221.8,278.7L221.6,279.1Z"/>
<path fill="#fff7ec" d="M374.4,181.5L374.6,180.1L375.1,180L375.5,180.6L375.4,181.7L374.9,181.7Z"/>
<path fill="#fff7ec" d="M350.9,170.6L351.2,172.4L349.6,174.6L346.1,176.1L343.3,175.7L345,173.1L344.2,170.6L346.9,168.7L348.4,167.5L348.8,168.8L348.3,170.1L349.5,170.1Z"/>
<path fill="#fff7ec" d="M409,130.1L414.6,131.7L412.6,132.3L414.8,133.7L412.2,134.6L410.9,134.8L411.2,133.2L408.9,132.4L406.5,133.1L406,134.7L404.7,135.7L402.7,135.2L400.6,135.3L398.5,134.1L397.6,134.7L396.6,134.8L396.6,136.2L393.3,135.9L393.1,137.1L391.4,137.1L390.5,138.7L389.2,141.2L386.8,144.4L387.5,145.2L387,146.1L385.3,146.1L384.3,148.3L384.7,151.4L386,152.6L385.6,155.4L384.2,157L383.5,158.4L382.2,156.9L378.7,159.7L376.2,160.3L373.6,159.1L372.8,156.5L372,151L373.6,149.5L378.2,147.5L381.6,145.1L384.5,141.9L388.1,137.6L390.7,135.9L394.9,133.1L398.3,132.2L401.1,132.3L403.2,130.5L406.2,130.6ZM399.8,116.6L396.7,117.3L393.9,116.9L394.8,116.4L393.7,115.8L396.7,115.4L397.5,116.1ZM389.3,113.1L394.4,114.4L391,115.2L390.5,116.6L389.2,117L388.9,118.6L387.1,118.6L383.6,117.5L384.9,116.8L382.5,116.2L379.4,114.6L378.1,113.2L381.9,112.5L382.8,113.1L384.8,113.1L385.2,112.5L387.3,112.4ZM399.2,111.8L402.3,112.4L400.5,113.4L396.3,113.6L392,113.3L391.6,112.8L389.5,112.8L387.8,112L392,111.5L394.2,111.9L395.5,111.4Z"/>
<path fill="#fff7ec" d="M408.7,161L408.7,159.6L408.1,159.8L406.7,159L406.3,157.6L408.6,156.9L410.8,156.6L412.9,157L414.8,156.9L415.2,157.3L414.1,158.7L415.1,161L414.5,161.8L412.9,161.7L411.1,160.8L410.2,160.6Z"/>
<path fill="#fff7ec" d="M403.2,165.3L403,163.4L403.7,161.9L405.4,161.1L407.2,162.9L408.7,162.8L408.7,161L410.2,160.6L411.1,160.8L412.9,161.7L414.5,161.8L415.5,162.3L415.9,163.5L416.8,164.9L414.9,165.9L413.8,166.3L411.7,165.1L410.7,165L410.3,164.4L408.5,164.7L405.3,164.5Z"/>
<path fill="#fff7ec" d="M391.3,189.2L393,189.4L394,188.8L395.8,188.7L396.1,188.3L396.5,188.3L396.9,189.2L395.4,189.9L395.2,190.9L394.5,191.2L394.6,191.9L393.8,191.8L393.1,191.4L392.7,191.8L391.3,191.8L391.7,191.5L391.2,190.4Z"/>
<path fill="#fff7ec" d="M406.4,201.1L406.2,202L406.6,203.1L407.5,203.8L407.5,204.5L406.9,204.8L406.8,205.7L405.9,206.9L405.6,206.8L405.5,206.2L404.2,205.3L403.9,204.1L404,202.3L404.2,201.5L403.8,201.1L403.6,200.3L404.4,199L404.5,199.5L405.1,199.3L405.6,200L406.1,200.2Z"/>
<path fill="#fff7ec" d="M406.4,201.1L406.6,201.2L406.7,200.7L407.9,200.2L408.3,200.1L409,200L410,200L411.1,200.8L411.5,202.5L411.1,202.6L410.8,203L409.6,203L408.9,203.6L407.5,203.8L406.6,203.1L406.2,202Z"/>
<path fill="#fff7ec" d="M691.4,346.3L691.9,348.4L693.6,347.4L694.1,348.5L695.1,349.5L694.6,350.7L694.7,353L694.8,354.2L695.3,354.6L695.5,356.8L695,358.1L695.4,359.9L697.5,361.3L698.8,362.5L700.1,363.7L699.7,364.3L700.6,365.9L700.8,368.8L701.8,368.2L702.5,369.3L703.1,368.9L702.8,371.7L704,373.3L704.8,374.3L706,376.4L705.9,378.5L705.5,380L704.8,381.6L705.1,383.8L704.1,386.1L703.2,387.4L701.7,389.7L701.1,391.2L699.8,393L697.8,395.4L695.5,396.7L693.7,398.7L692.4,400L690.6,402.3L689.1,403.6L687.5,405.5L686.2,407.3L685.9,408.2L684.1,409L681.7,409.1L679.1,410.2L677.5,411.2L675.6,412.3L674.5,411.2L673.4,410.7L674.5,409.4L673.1,409.9L670.2,411.7L668.7,411L667.7,410.6L666.6,410.4L664.9,409.7L664.4,408.1L665,406.1L665.7,403.7L664.6,403.7L662.7,403.4L664,402.2L664.4,400.2L662.5,402L660.3,402.5L662.1,401.1L663.1,399.5L664.6,398.3L665.2,396.3L662.5,398.6L660.7,399.4L658.9,401.5L657.7,400.5L658.4,399.1L657.9,397.2L657.1,396.2L657.8,395.6L655.6,394L654.1,393.9L652.5,392.7L648.4,392.9L644.9,394.6L642.4,394.7L640.3,394.6L637.5,395.9L635.4,396.5L634.4,397.9L633.2,398.9L631.3,399L629.8,399.2L628.1,398.7L626.4,399L624.8,399.2L623,400.5L622.4,400.4L621,401.2L619.6,402L618.1,401.9L616.7,401.9L615,400.2L614,399.7L614.6,398.2L615.8,397.9L616.4,397.3L616.7,396.3L617.6,394.5L617.9,393L617.6,390.3L617.7,388.8L618.2,387.4L617.8,385.7L618,384.9L617.3,383.9L617.6,381.8L616.8,379.7L616.8,378.6L617.5,379.8L617.3,377.3L618.3,378.1L618.7,379.1L619,377.8L618.3,375.7L618.3,374.9L617.9,374.1L618.4,372.6L619,371.9L619.6,370.6L619.6,369.1L620.9,367.2L620.7,369.2L622,367.4L624,366.6L625.3,365.4L627.2,364.5L628.2,364.3L628.8,364.6L630.8,363.6L632.2,363.3L632.6,362.7L633.3,362.5L634.5,362.6L637.1,361.8L638.5,360.7L639.3,359.3L640.9,357.9L641.2,356.9L641.5,355.5L643.4,353.3L644,355.5L645.1,355L644.5,353.8L645.4,352.5L646.3,353.1L646.9,351.1L648.3,349.8L649,348.7L650.2,348.3L650.4,347.6L651.4,347.9L651.5,347.2L652.5,346.8L653.7,346.5L655.2,347.7L656.3,349.2L657.7,349.3L659.1,349.5L658.8,348.1L660.2,346L661.3,345.3L661.1,344.6L662.3,343.2L663.7,342.2L664.9,342.5L666.9,342L667,340.7L665.4,339.8L666.7,339.5L668.1,340.1L669.2,341.2L671.1,341.8L671.8,341.6L673.1,342.4L674.5,341.6L675.3,341.9L675.9,341.4L676.8,342.7L676,344.1L675,345.1L674.2,345.2L674.3,346.2L673.5,347.5L672.5,348.8L672.5,349.6L674.1,351L675.7,351.9L676.7,352.8L678.1,354.3L678.8,354.3L679.8,355L680,355.8L682,356.7L683.7,355.8L684.4,354.4L685.1,353.2L685.6,351.8L686.7,349.7L686.5,348.4L686.8,347.7L686.8,346.2L687.4,344.2L687.9,343.7L687.7,342.8L688.4,341.4L689,340L689.1,339.2L690.1,338.3L690.6,339.6L690.6,341.2L691.1,341.5L691.1,342.6L691.7,343.9L691.7,345.4ZM670.9,416.9L672.4,417.8L673.8,417.4L675.7,416.9L676.9,417.1L675.1,420.2L673.8,421.1L672.1,423.1L671.9,422.4L669.2,424.2L668.9,424.1L667.6,424L667.8,421.8L668.7,420.1L668.9,417.8L669.7,416.7Z"/>
<path fill="#fff7ec" d="M739,415L737.2,416.4L734.8,418.2L732.4,419.2L732.5,418.5L731.9,418.2L734.7,416L735.1,414.6L733.5,413.6L734.2,412.6L736.4,411.7L738.1,409.7L739.1,408L739.4,406.3L739.7,405.8L739.4,404.7L739,402.4L739.2,400.6L740.2,400.4L740.5,401.8L741.8,402.5L741,404.8L740.8,407.6L742,405.8L742.5,406.5L741.5,408.5L742.7,409.3L744,409.5L745.9,408.5L746.8,408.9L744.7,411.1L743,412.7L741.4,412.6L740.3,413.4L739.7,414.5ZM716.9,424L719.7,422.7L722.1,421.3L724.5,419.4L725.8,418.8L727.2,417.3L729.5,416.1L729.2,417.2L728.9,418.3L731.1,417.2L730.9,418.3L730.1,419.4L728.4,420.6L725.5,422.5L723.6,423.6L723.4,424.8L721.7,424.8L719.2,425.8L717.2,427.5L713.9,430.1L711.3,431.2L709.6,432L707.8,431.9L707.2,431.1L705.1,430.9L705.5,429.9L708.2,428L712.9,425.5L714.6,425Z"/>
<path fill="#fff7ec" d="M721.8,328.2L721.2,328.5L720.2,327.5L719.4,325.8L719,323.8L719.3,323.6L719.5,324.3L720.2,324.9L721.2,326.6L722.2,327.5ZM713.1,324.7L711.9,324.9L711.5,325.7L710.2,326.3L708.9,326.9L707.7,326.9L705.9,326.2L704.6,325.4L704.9,324.6L706.9,325L708.2,324.8L708.6,323.5L708.9,323.5L709.1,324.8L710.4,324.7L711.1,323.7L712.5,322.8L712.3,321.3L713.7,321.2L714.1,321.7L714,323.1ZM715.9,322.2L715.2,322.9L714.8,321.3L714.4,320.3L713.4,319.4L712.1,318.3L710.5,317.6L711.1,316.9L712.4,317.7L713.1,318.2L714.1,318.9L714.9,320L715.8,320.8ZM701.7,329.7L703.6,331.4L704.8,334.2L706.2,334.1L706,335.2L707.7,335.7L706.9,336.2L709.3,337.3L708.9,338L707.4,338.2L706.9,337.5L704.9,337.3L702.7,336.9L701.1,335.2L699.9,333.8L698.9,331.5L696,330.3L694,331.1L692.5,331.9L692.6,333.9L690.8,334.8L689.5,334.3L687.1,334.2L687.8,325.7L688.2,317.2L692.1,319L696.3,320.5L697.8,321.8L699,323.1L699.3,324.7L703,326.3L703.5,327.7L701.3,328Z"/>
<path fill="#fff7ec" d="M735.2,337.8L735.7,338.7L734.1,338.7L733.4,337L734.7,337.7ZM732.5,336.2L731.6,336.3L730.2,336L729.8,335.6L730,334.5L731.5,335L732.2,335.5ZM734.5,335.5L734.1,335.9L732.6,333.7L732.3,332.1L733.1,332.1L733.7,334.2ZM730.7,332.2L730.7,332.7L729,331.6L727.8,330.6L727,329.8L727.4,329.5L728.4,330.1L730.2,331.3ZM725.5,329.6L725.1,329.7L724.1,329.2L723.2,328.1L723.4,327.6L724.7,328.7Z"/>
<path fill="#fff7ec" d="M745.6,353.4L744.8,353.8L744.3,352.6L744.5,351.9ZM744.8,349.4L744.7,351.5L744.2,351.2L743.6,351.3L743.5,350.6L743.8,348.6Z"/>
<path fill="#fff7ec" d="M769.1,355.7L769.7,356.5L768.9,357.8L767.4,358.2L766.3,357.8L766.4,356.7L767.4,355.8L768.4,356.1ZM771.7,354.3L770.1,354.8L770,353.9L771.3,353.3L772,353.2L773.6,352.4L773.3,353.7Z"/>
<path fill="#fff7ec" d="M455.1,203.1L458,202.7L458.6,203.4L459.5,203.9L459.2,204.5L460.5,205.4L460,206.2L461.1,206.9L462.1,207.4L462.5,209.2L461.7,209.2L460.6,207.7L460.5,207.3L459.6,207.3L458.8,206.6L458.4,206.7L457.4,205.9L455.7,205.3L455.7,204Z"/>
<path fill="#fff7ec" d="M433.1,218.7L434.3,218.6L434.6,218L436.1,218L438,217.2L436.7,218.3L437,219L434.9,220.1L433.8,219.8Z"/>
<path fill="#fff7ec" d="M441.4,223.5L440.9,223.5L440.7,224L440,224L440.5,221.8L441.4,220L441.4,219.9L442.4,220L442.9,221.1L441.8,222.1Z"/>
<path fill="#fff7ec" d="M441.4,225L441.1,225.8L440.3,225.4L440,227.2L440.6,227.5L440,227.8L440,228.5L441,228.1L441.2,229.2L440.5,233.3L438.6,228.9L439.2,228L439,227.8L439.4,226.6L439.7,224.6L439.9,224L440,224L440.7,224L440.9,223.5L441.4,223.5L441.6,224.5L441.3,224.9Z"/>
<path fill="#fff7ec" d="M441.1,225.8L441.3,227.4L441,228.1L440,228.5L440,227.8L440.6,227.5L440,227.2L440.3,225.4Z"/>
<path fill="#fff7ec" d="M441.1,225.8L441.4,225L443.9,226L447.9,223.2L449.2,226.4L448.8,226.8L444.5,228.1L447,230.7L446.3,231.2L446.1,232L444.4,232.4L444,233.3L443.1,234.1L440.6,233.7L440.5,233.3L441.2,229.2L441,228.1L441.3,227.4Z"/>
<path fill="#fff7ec" d="M469.3,232.1L469.9,233.3L469.7,233.8L470.7,235.8L469.1,235.9L468.4,234.7L466.4,234.4L467.8,231.9Z"/>
<path fill="#fff7ec" d="M460.5,267.7L460.2,266.6L459.4,265.8L459.2,264.8L458,263.8L456.6,261.6L455.9,259.5L454.2,257.7L453.1,257.3L451.5,254.8L451.1,253L451.1,251.4L449.6,248.5L448.5,247.5L447.3,247L446.4,245.5L446.5,244.9L445.8,243.5L445.1,242.9L444.1,241L442.5,238.9L441.3,237.1L440.1,237.1L440.4,235.7L440.4,234.8L440.6,233.7L443.1,234.1L444,233.3L444.4,232.4L446.1,232L446.3,231.2L447,230.7L444.5,228.1L448.8,226.8L449.2,226.4L451.9,227.1L455.4,228.9L462.3,234.2L466.4,234.4L468.4,234.7L469.1,235.9L470.7,235.8L471.8,238.1L473,238.7L473.5,239.6L475.1,240.7L475.4,241.8L475.2,242.6L475.6,243.5L476.4,244.2L476.7,245.1L477.1,245.8L477.8,246.2L478.5,246.1L479,247.1L479.1,247.7L480.2,250.3L487.1,251.6L487.5,251.1L488.7,252.9L487.6,258.2L481.1,260.8L474.6,261.8L472.5,262.9L471.1,265.7L470.1,266.1L469.4,265.3L468.6,265.4L466.4,265.1L465.9,264.9L463.3,264.9L462.7,265.2L461.7,264.5L461.2,265.8L461.5,266.9Z"/>
<path fill="#fff7ec" d="M484,266.9L482.4,267.6L482.1,268.8L482.1,269.7L479.9,270.7L476.3,272L474.3,273.8L473.3,274L472.6,273.8L471.4,274.9L469.9,275.4L468,275.5L467.5,275.7L467,276.4L466.4,276.6L466.1,277.2L464.9,277.2L464.2,277.5L462.6,277.4L461.9,275.9L461.9,274.4L461.5,273.7L461,271.7L460.3,270.7L460.8,270.5L460.4,269.3L460.7,268.8L460.5,267.7L461.5,266.9L461.2,265.8L461.7,264.5L462.7,265.2L463.3,264.9L465.9,264.9L466.4,265.1L468.6,265.4L469.4,265.3L470.1,266.1L471.1,265.7L472.5,262.9L474.6,261.8L481.1,260.8L483.2,265.1Z"/>
<path fill="#fff7ec" d="M496.1,255.3L495.5,257L494.4,256.9L494,257.5L493.8,258.8L494.2,260.6L494,260.9L492.9,260.9L491.6,261.9L491.5,263.1L491,263.7L489.6,263.7L488.8,264.3L488.8,265.4L487.8,266.1L486.5,265.9L485.1,266.8L484,266.9L483.2,265.1L481.1,260.8L487.6,258.2L488.7,252.9L487.5,251.1L487.5,250L488,249L487.9,247.9L488.9,247.4L488.5,247L488.5,245.3L489.6,245.3L490.8,247.1L492.2,248L493.9,248.4L495.2,248.8L496.4,250.3L497.1,251.2L497.9,251.6L498,252.1L497.3,253.7L497,254.4ZM489.1,243.2L488.6,242.3L489.1,241.4L489.4,241.7L489.3,242.7Z"/>
<path fill="#fff7ec" d="M479,247.1L479.4,247L479.5,247.7L481.2,247.2L483.1,247.3L484.5,247.4L485.8,245.6L487.3,243.9L488.6,242.3L489.1,243.2L489.6,245.3L488.5,245.3L488.5,247L488.9,247.4L487.9,247.9L488,249L487.5,250L487.5,251.1L487.1,251.6L480.2,250.3L479.1,247.7Z"/>
<path fill="#fff7ec" d="M477.1,245.8L476.8,243.8L477.2,242.5L477.8,242.2L478.6,243L478.8,244.5L478.5,246.1L477.8,246.2Z"/>
<path fill="#fff7ec" d="M199.5,279.6L199.3,280.3L198,280.6L198.7,281.7L198.6,283.1L197.5,284.6L198.2,286.7L199.2,286.5L199.8,284.6L199.2,283.7L199.2,281.7L202.1,280.7L201.8,279.4L202.7,278.6L203.4,280.5L205,280.5L206.4,282L206.5,282.8L208.5,282.8L211,282.6L212.2,283.8L214,284.1L215.3,283.3L215.4,282.6L218.2,282.5L221,282.4L219,283.2L219.7,284.4L221.5,284.6L223.2,285.9L223.5,288L224.7,287.9L225.6,288.5L223.7,290.1L223.5,291L224.2,292L223.6,292.5L222.2,292.9L222.2,294.1L221.6,294.8L223.1,296.8L223.1,296.8L223.4,297.5L222.5,298.5L219.9,299.5L218.2,299.9L217.5,300.6L215.7,299.9L214,299.6L213.6,299.8L214.6,300.5L214.5,302.2L214.8,303.9L216.7,304.1L216.8,304.7L215.2,305.4L214.9,306.5L213.9,306.9L212.2,307.5L211.8,308.3L210,308.5L208.7,307.1L208.7,307.1L208,304.5L207.4,303.6L206.6,303L207.8,301.7L207.7,301.2L207.1,300.4L206.7,298.6L206.9,296.8L207.5,295.9L207.9,294.5L207.1,294L205.8,294.3L204.1,294.2L203.2,294.5L201.7,292.2L200.4,291.9L197.4,292.1L196.9,291.2L196.3,291L196.2,290.5L196.6,289.5L196.4,288.4L195.9,287.9L195.7,286.7L194.5,286.5L195.2,285L195.6,283.1L196.4,282.1L197.3,281.4L198,280.1L199.5,279.6Z"/>
<path fill="#fff7ec" d="M225.6,288.5L227.1,289.5L228.4,291.2L228.5,292.6L229.3,292.6L230.5,293.9L231.4,294.8L231,297.2L229.6,297.8L229.7,298.4L229.2,299.8L230.2,301.7L230.9,301.7L231.2,303.2L232.6,305.4L232.6,305.4L232,305.5L230.7,305.3L230,306L228.9,306.5L228.2,306.6L227.9,307.1L226.8,307L225.4,305.7L225.2,304.5L224.7,303.2L225.1,301L225.7,300.1L225.2,298.9L224.5,298.5L224.8,297.3L224.3,296.7L223.1,296.8L221.6,294.8L222.2,294.1L222.2,292.9L223.6,292.5L224.2,292L223.5,291L223.7,290.1Z"/>
<path fill="#fff7ec" d="M231.4,294.8L234.1,295.3L234.4,294.9L236.3,294.6L238.7,295.4L237.5,297.6L237.6,299.4L238.5,300.9L238.1,302.1L237.8,303.3L237.2,304.4L237.2,304.4L235.9,303.8L234.8,304.1L233.9,303.8L233.7,304.6L234,305.1L233.8,305.6L232.6,305.4L232.6,305.4L231.2,303.2L230.9,301.7L230.2,301.7L229.2,299.8L229.7,298.4L229.6,297.8L231,297.2L231.4,294.8Z"/>
<path fill="#fff7ec" d="M177.8,319.3L178.1,320.4L177.5,321L177.6,322L178.5,321.8L179.5,322L180.5,323.4L181.8,322.3L182.1,320.5L183.5,318.2L186.2,317.2L188.7,314.5L189.4,312.8L189.1,310.8L189.1,310.8L189.7,310.6L191.2,311.8L192,313L193.1,313.7L194.5,316.4L196.2,316.7L197.4,316.1L198.3,316.5L199.7,316.3L201.4,317.5L200,320.2L200.7,320.2L201.9,321.6L201.9,321.6L199.8,321.5L199.5,321.9L197.6,322.4L195.1,324.2L195,325.4L194.4,326.3L194.7,327.7L193.3,328.5L193.4,329.6L192.8,330L193.8,332.4L195.2,334L194.7,335.1L196.3,335.3L197.2,336.7L199.3,336.7L201.1,335.2L201.1,339.2L202.2,339.4L203.4,339L203.4,339L205.7,343.2L205.3,344.1L205.3,345.9L205.4,348.1L204.6,349.5L205.1,350.4L204.6,351.3L205.8,353.5L204.6,356.3L204.6,356.3L204.2,357.7L203.1,358.3L200.6,356.8L200.3,355.7L195.6,353.1L191.2,350.3L189.3,348.7L188.2,346.5L188.5,345.8L186.3,342.3L183.7,337.5L181.2,332.3L180.2,331.1L179.4,329.2L177.6,327.5L175.9,326.4L176.6,325.3L175.4,322.8L176,321Z"/>
<path fill="#fff7ec" d="M203.4,339L205.2,339.2L206.3,339.2L206.8,338.4L208.8,337.3L209.9,336.3L212.9,335.9L212.8,337.9L213.1,338.9L213,340.6L215.6,342.9L218.2,343.4L219.2,344.4L220.8,344.9L221.8,345.6L223.2,345.6L224.6,346.4L224.8,347.9L225.3,348.7L225.4,349.8L224.7,349.8L225.8,352.9L230.2,353L230,354.5L230.3,355.5L231.6,356.2L232.3,357.9L232,359.9L231.5,361.1L231.9,362.6L231.2,363.1L231.2,363.1L231.1,362.3L228.9,361L226.8,360.9L222.9,361.7L222,364L222.1,365.4L221.5,368.5L221.5,368.5L221.1,367.9L218.5,367.8L217.8,370L216.3,368.1L213.3,367.4L211.7,369.8L211.7,369.8L210.1,370.1L208.8,366.5L207.3,363.6L207.7,361.1L206.4,360L205.9,358.1L204.6,356.3L204.6,356.3L205.8,353.5L204.6,351.3L205.1,350.4L204.6,349.5L205.4,348.1L205.3,345.9L205.3,344.1L205.7,343.2L203.4,339Z"/>
<path fill="#fff7ec" d="M221.5,368.5L222.1,365.4L222,364L222.9,361.7L226.8,360.9L228.9,361L231.1,362.3L231.2,363.1L231.2,363.1L232,364.5L232.2,368.1L234.6,368.6L235.5,368.1L237.1,368.8L237.6,369.6L238,372L238.4,373L239.2,373.1L240,372.7L240.9,373.1L241,374.6L240.8,376.1L240.6,377.6L240.6,377.6L240.5,379.9L238.7,381.9L237,382.4L234.4,382L232.1,381.2L233.8,377.3L233.3,376.1L230.9,375.1L228,373.2L226.1,372.8L221.5,368.5Z"/>
<path fill="#fff7ec" d="M235.4,389.3L236.8,389L239.4,391.1L240.2,391L242.7,392.7L244.7,394.1L246.2,395.9L245.5,397.1L246.3,398.6L245.7,400.3L243.5,401.7L241.8,401.2L240.6,401.5L238.4,400.3L237,400.4L235.4,399L235.2,397.3L235.6,396.7L235.1,394.1L235.2,391.4L235.4,389.3Z"/>
<path fill="#fff7ec" d="M204.6,356.3L205.9,358.1L206.4,360L207.7,361.1L207.3,363.6L208.8,366.5L210.1,370.1L211.7,369.8L211.7,369.8L212,370.5L211.5,373.2L209.2,374.4L209.9,378.8L209.6,379.6L210.4,380.7L209.1,382.3L208,384.7L207.6,387.1L208.3,389.6L207.5,392.3L209.4,396.8L210.1,397.3L210.6,399.7L210,402.3L210.6,404.5L209.4,406.1L210,408.5L211.4,411.1L210.3,412L210.4,414.3L210.7,417L212.1,420.1L211.4,420.7L212.9,423.7L214.2,424.6L213.8,425.7L215,426.2L215.5,427.2L214.8,427.7L215.5,429.2L216,432.6L215.7,434.8L216.4,436L216.4,437.7L215.3,438.8L216.6,441.5L217.6,442.4L218.9,442.2L219.6,444.1L221.1,445.5L226,445.9L228,446.3L226.2,446.2L225.5,446.9L224.1,447.8L224.9,450.1L224.1,450.2L221.5,449.3L218.5,447.6L215.4,446.2L214.1,444.6L214,443.1L212.3,441.5L210.2,437.1L210.1,434.7L211.5,432.7L208.2,432L209.3,429.7L208.4,425.4L211,426.3L210.3,421L208.7,420.3L209.1,423.6L207.7,423.2L207.1,419.5L206.3,414.7L206.7,412.9L205.4,410.4L204.4,407.5L205.3,407.3L205.5,403.2L206,399L206,395.1L204.7,391.2L205,389L204.1,385.8L204.9,382.6L204.5,377.6L204.5,372.1L204.5,366.3L203.9,362L203.1,358.3L204.2,357.7ZM228.2,447.1L230.6,452.7L232.7,452.7L233.9,452.7L233.7,453.7L232.4,454.5L231.4,454.4L230.2,454.2L228.4,453.5L226.2,453.1L223.2,451.8L220.6,450.4L216.6,447.6L218.5,448.1L222,449.8L224.9,450.7L225.4,449.6L225.3,447.8L226.7,446.8Z"/>
<path fill="#fee8c8" d="M351.7,217L353,218.1L355.1,217.9L357.3,218.5L358.3,218.5L359.1,220.2L359.2,221.8L360,224.6L360.5,225.1L360.1,226.1L357.2,226.6L356.2,227.5L355,227.8L354.9,229.7L352.3,230.7L351.4,232L349.6,232.7L347.3,233.1L343.7,235.1L343.7,238.1L333.6,238.1L334.9,237.2L337,236.9L338.8,235.1L339.9,234.4L341.8,232.2L341.4,229L342.3,226.7L342.6,225.4L344,223.6L346.3,222.4L347.9,221.3L349.4,218.6L350.1,217Z"/>
<path fill="#fee8c8" d="M343.7,238.1L343.7,235.1L347.3,233.1L349.6,232.7L351.4,232L352.3,230.7L354.9,229.7L355,227.8L356.2,227.5L357.2,226.6L360.1,226.1L360.5,225.1L360,224.6L359.2,221.8L359.1,220.2L358.3,218.5L360.4,217.1L362.7,216.7L364.1,215.6L366.2,214.8L369.8,214.3L373.4,214.1L374.5,214.5L376.5,213.5L378.8,213.5L379.7,214.1L381.2,213.9L380.8,215.3L381.2,217.7L380.7,219.9L379.4,221.3L379.7,223.3L381.5,224.9L381.5,225.5L382.9,226.6L384,231.2L384.8,233.6L384.9,234.8L384.6,236.9L384.8,238.1L384.5,239.5L384.7,241.2L383.9,242.3L385.2,244.1L385.3,245.3L386.2,246.7L387.2,246.2L389,247.4L390,249.1L382.4,254.1L375.9,259.2L372.7,260.4L370.2,260.6L370.1,259L369.1,258.5L367.7,257.8L367.1,256.6L359.5,250.9L352,245.2L343.6,238.8Z"/>
<path fill="#fee8c8" d="M449.6,271.3L451,272.5L452.3,271.9L452.9,272.4L454.5,272.5L456.5,273.5L457.2,274.4L458.2,275.3L459.2,276.8L460,277.6L459.3,278.8L458.5,280L458.7,280.7L458.8,281.5L460.1,281.6L460.6,281.4L461.2,281.9L460.7,282.8L461.6,284.2L462.5,285.5L463.4,286.4L471,289.5L472.9,289.5L466.6,297.3L463.6,297.4L461.6,299.3L460.1,299.4L459.5,300.2L457.9,300.2L457,299.3L454.9,300.4L454.2,301.5L452.7,301.3L452.2,300.9L451.6,301L450.9,301L448,298.8L446.3,298.8L445.5,297.9L445.5,296.5L444.3,296L442.9,293.2L441.8,292.6L441.4,291.5L440.2,290.3L438.8,290.1L439.6,288.6L440.8,288.5L441.1,287.7L441,285.4L441.6,282.6L442.7,281.9L442.9,280.8L443.8,278.8L445.2,277.5L446,275L446.3,272.7L449,273.3Z"/>
<path fill="#fee8c8" d="M506.2,212.8L505.9,211.2L502.8,210.1L500.2,208.8L498.5,207.6L495.6,205.8L493.9,203.2L493,202.7L490.8,202.8L489.8,202.3L489.1,200.2L485.9,198.8L484.5,200.3L482.9,201.2L483.6,202.5L481.2,202.6L478.7,193.1L483.5,191.5L484,191.8L487.7,193.6L489.7,194.6L492.4,196.9L494.7,196.5L498.2,196.3L501.3,198.2L501.9,200.8L503,200.8L504,202.9L506.7,203L507.7,204.2L508.4,204.2L508.8,202.4L511,200.6L512.1,200.1L512.8,200.3L511.6,202L513.4,203L514.7,202.4L517.7,203.7L515.5,205.6L513.8,205.3L513,205.4L512.4,204.7L512.5,203.5L509.9,204.1L509.7,205.7L509.1,207.2L507.3,207.1L507,208.2L508.8,208.8L509.7,210.7L509.2,213.4L507.4,212.8Z"/>
<path fill="#fee8c8" d="M495.8,217.3L498.2,218.3L499.8,217.9L500,216.7L501.6,216.3L502.6,215.6L502.6,213.5L504.3,213L504.4,212L505.6,212.8L506.2,212.8L507.4,212.8L509.2,213.4L509.9,213.7L511.3,212.9L512.1,213.4L512.5,212.2L513.8,212.2L514,211.8L514,210.8L514.7,209.9L516,210.5L516,211.3L516.7,211.4L517,213.6L518.1,214.4L518.7,213.9L519.6,213.6L520.6,212.5L522.2,212.7L524.4,212.7L525,213.4L523.8,213.7L522.9,214.2L520.5,214.5L518.3,215L517.3,216.2L518.1,217.3L518.7,218.6L517.9,219.7L518.2,220.7L517.8,221.6L515.7,221.5L517,223.3L515.7,223.9L515.1,225.5L515.6,227.1L514.9,227.8L514,227.6L512.4,227.9L512.3,228.6L510.6,228.6L509.7,230.1L510,232.3L507.3,233.4L505.7,233.2L505.4,233.8L504,233.4L501.8,233.8L497.9,232.5L499.5,230.1L499,228.4L497.3,228L496.8,226.3L495.7,224.3L496.4,222.8L495.4,222.4L495.6,220.5Z"/>
<path fill="#fee8c8" d="M551.2,290.8L551,293.5L550,294.2L548,294.8L546.9,292.7L546.3,289L547.1,284.7L548.8,286.2L549.9,288Z"/>
<path fill="#fee8c8" d="M603.6,273.1L604.2,272L604,269.7L601.9,267.5L601.4,264.9L599.3,262.8L597.6,262.6L597.2,263.5L595.9,263.6L595.2,263.1L593,264.7L592.6,262.3L592.8,259.6L591.2,259.4L590.8,257.9L589.7,257.1L590.1,256.1L591.7,254.4L592,255L593.2,255.1L592.4,252.1L593.5,251.7L595.2,253.8L596.6,256.1L599.4,256.2L600.6,258.4L599.3,259.2L598.8,260.1L601.7,261.6L604.1,264.7L605.9,267L607.8,268.8L608.6,270.7L608.5,273.3L606.4,272.3L605.6,274.1Z"/>
<path fill="#fee8c8" d="M600.6,282.6L599.5,281.3L598.1,278.6L597.3,275.4L598.5,273.2L601.4,272.7L603.6,273.1L605.6,274.1L606.4,272.3L608.5,273.3L609.3,275L609.3,278.2L605.7,280.2L606.8,281.8L604.4,282L602.5,283Z"/>
<path fill="#fee8c8" d="M595.8,294.2L596,295.5L597.5,295.2L598.2,294.2L598.7,294.4L600.2,296L601.2,297.7L601.4,299.5L601.2,300.7L601.5,301.6L601.7,303.1L602.5,303.8L603.5,306.1L603.5,307L601.8,307.2L599.6,305.3L596.8,303.2L596.5,301.9L595.1,300.1L594.7,297.9L593.8,296.5L594,294.6L593.4,293.5L593.8,293.1ZM636.4,298.7L634.7,299.6L632.7,299.1L630.1,299.1L629.4,302.1L628.5,303L627.4,306.7L625.6,307.2L623.4,306.5L622.3,306.7L620.9,308L619.5,307.8L618,308.4L616.4,306.9L616,305.1L617.7,306.1L619.5,305.6L619.9,303.3L620.8,302.9L623.6,302.3L625.1,300.2L626.2,298.6L627.3,299.9L627.8,299L628.9,299.1L628.9,297.4L629,296.2L630.6,294.4L631.7,292.3L632.6,292.3L633.9,293.6L634,294.8L635.6,295.5L637.5,296.3L637.4,297.3L635.9,297.4Z"/>
<path fill="#fee8c8" d="M379.4,167.9L378.6,166.5L378.4,164L378.7,163.4L379.2,162.6L380.8,162.5L381.4,161.8L382.9,161.1L382.9,162.4L382.4,163.2L382.7,163.9L383.8,164.2L383.4,165.2L382.8,164.9L381.5,166.7L382.1,167.9L380.9,168.2ZM386.6,165.1L387.3,166.3L386.3,168.3L384.2,166.9L383.9,165.9Z"/>
<path fill="#fee8c8" d="M401.6,142.3L400.2,143.9L400.7,145.3L398.2,147.1L395,149.2L394.1,152.5L395.7,154.1L397.6,155.5L396.3,158.2L394.4,158.7L394.1,162.8L393.3,165.1L391,164.9L390.1,166.8L387.9,166.9L387.1,164.6L385.2,161.8L383.5,158.4L384.2,157L385.6,155.4L386,152.6L384.7,151.4L384.3,148.3L385.3,146.1L387,146.1L387.5,145.2L386.8,144.4L389.2,141.2L390.5,138.7L391.4,137.1L393.1,137.1L393.3,135.9L396.6,136.2L396.6,134.8L397.6,134.7L400,135.8L403,137.3L403.7,140.7L404.4,141.6Z"/>
<path fill="#fee8c8" d="M410.9,134.8L411.1,136.3L414,137.8L412.9,139.5L415.5,142.1L414.8,144L416.8,145.8L416.5,147.3L419.5,148.9L419.1,150.1L417.7,151.4L414.5,154.5L411.2,154.7L408.1,155.5L405.2,156L403.9,154.7L402,153.9L402,151.6L400.8,149.5L401.5,148.1L402.8,146.7L406.4,144.2L407.5,143.7L407.1,142.7L404.4,141.6L403.7,140.7L403,137.3L400,135.8L397.6,134.7L398.5,134.1L400.6,135.3L402.7,135.2L404.7,135.7L406,134.7L406.5,133.1L408.9,132.4L411.2,133.2Z"/>
<path fill="#fee8c8" d="M407,169.5L406.8,168.9L406.9,168.2L406,167.8L403.9,167.3L403.2,165.3L405.3,164.5L408.5,164.7L410.3,164.4L410.7,165L411.7,165.1L413.8,166.3L414.2,167.4L412.7,168.2L412.5,169.6L410.5,170.5L408.6,170.5L408.1,169.7Z"/>
<path fill="#fee8c8" d="M401.7,190.7L402.3,191.7L403,192.4L402.3,193.4L401.3,192.8L399.9,192.9L398.1,192.5L397.1,192.5L396.7,193L396,192.5L395.6,193.5L396.7,194.7L397.2,195.5L398.3,196.5L399.1,197L400,198.1L401.9,199.1L401.7,199.5L399.7,198.6L398.4,197.7L396.4,196.9L394.5,195L394.9,194.8L393.9,193.7L393.8,192.8L392.4,192.5L391.9,193.6L391.2,192.7L391.2,191.8L391.3,191.8L392.7,191.8L393.1,191.4L393.8,191.8L394.6,191.9L394.5,191.2L395.2,190.9L395.4,189.9L396.9,189.2L397.6,189.5L399.2,190.6L401,191.1Z"/>
<path fill="#fee8c8" d="M402.3,193.4L403.1,193.4L402.7,194.5L403.8,195.5L403.6,196.7L403.1,196.9L402.7,197.1L402.1,197.7L401.9,199.1L400,198.1L399.1,197L398.3,196.5L397.2,195.5L396.7,194.7L395.6,193.5L396,192.5L396.7,193L397.1,192.5L398.1,192.5L399.9,192.9L401.3,192.8Z"/>
<path fill="#fee8c8" d="M416.9,184.8L417.4,184.4L418.7,184.2L420.3,185L421.1,185.1L422.2,185.8L422.1,186.6L423,187L423.4,188.1L424.2,188.8L424.1,189.1L424.5,189.4L424,189.6L422.8,189.5L422.6,189.2L422.2,189.4L422.4,189.8L421.9,190.6L421.7,191.5L421.2,191.8L420.7,190.6L420.7,189.5L420.5,188.4L419.1,186.9L418.3,185.8L417.6,185.1Z"/>
<path fill="#fee8c8" d="M446.4,197.1L446.6,196.8L448.4,197.2L451.6,197.6L454.7,198.9L455.2,199.4L456.4,198.9L458.4,199.5L459.3,200.5L460.7,201.1L460.3,201.5L461.6,202.9L461.3,203.2L460.2,203.1L458.5,202.3L458,202.7L455.1,203.1L452.9,201.9L450.6,202L450.8,200.9L449.9,199.1L448.5,198.2L447.3,197.9Z"/>
<path fill="#fee8c8" d="M458.4,206.7L458.8,206.6L459.6,207.3L460.5,207.3L460.6,207.7L461.7,209.2L460.2,208.9L458.9,207.7ZM463.1,202.8L464.1,203L464.3,202.3L465.3,201.3L466.7,202.6L468.2,204.5L469.2,204.6L470,205.3L468.3,205.5L468.4,207.5L468.2,208.4L467.5,209L467.8,210.3L467.3,210.5L465.7,209.1L466.2,207.8L465.4,207.1L464.7,207.2L462.5,209.2L462.1,207.4L461.1,206.9L460,206.2L460.5,205.4L459.2,204.5L459.5,203.9L458.6,203.4L458,202.7L458.5,202.3L460.2,203.1L461.3,203.2L461.6,202.9L460.3,201.5L460.7,201.1L461.3,201.2Z"/>
<path fill="#fee8c8" d="M447.9,223.2L443.9,226L441.4,225L441.3,224.9L441.6,224.5L441.4,223.5L441.8,222.1L442.9,221.1L442.4,220L441.4,219.9L441,217.9L441.4,216.8L441.9,216.3L442.4,215.7L442.3,214.2L443.1,214.8L445.4,214L446.6,214.5L448.3,214.5L450.7,213.5L451.8,213.6L454.2,213.2L453.4,214.8L452.3,215.4L452.8,217.3L452.4,220.5Z"/>
<path fill="#fee8c8" d="M461.4,216.4L462.9,217.2L463.3,218.7L462.4,219.6L462.2,221.7L464.1,224.1L467,225.6L468.4,227.6L468.3,229.5L469,229.5L469.2,230.9L470.6,232.2L469.3,232.1L467.8,231.9L466.4,234.4L462.3,234.2L455.4,228.9L451.9,227.1L449.2,226.4L447.9,223.2L452.4,220.5L452.8,217.3L452.3,215.4L453.4,214.8L454.2,213.2L455.1,212.8L457.7,213.1L458.5,213.8L459.5,213.3Z"/>
<path fill="#fee8c8" d="M185.2,287.8L186.3,287.8L188.2,286L189.1,285.7L189.2,284.9L189.7,282.7L191.1,281.5L192.6,281.4L192.8,280.9L194.6,281.1L196.5,279.8L197.4,279.2L198.6,277.9L199.4,278.1L199.9,278.8L199.5,279.6L198,280.1L197.3,281.4L196.4,282.1L195.6,283.1L195.2,285L194.5,286.5L195.7,286.7L195.9,287.9L196.4,288.4L196.6,289.5L196.2,290.5L196.3,291L196.9,291.2L197.4,292.1L200.4,291.9L201.7,292.2L203.2,294.5L204.1,294.2L205.8,294.3L207.1,294L207.9,294.5L207.5,295.9L206.9,296.8L206.7,298.6L207.1,300.4L207.7,301.2L207.8,301.7L206.6,303L207.4,303.6L208,304.5L208.7,307.1L208.7,307.1L208.3,307.4L207.8,305.9L207.2,305.1L206.4,306L201.9,305.9L202,307.6L203.3,307.8L203.2,308.8L202.8,308.5L201.4,309L201.4,310.9L202.5,311.8L202.8,313.3L202.8,314.5L201.9,321.6L201.9,321.6L200.7,320.2L200,320.2L201.4,317.5L199.7,316.3L198.3,316.5L197.4,316.1L196.2,316.7L194.5,316.4L193.1,313.7L192,313L191.2,311.8L189.7,310.6L189.1,310.8L189.1,310.8L188.1,310.2L187,309.3L186.3,309.7L184.4,309.4L183.8,308.2L183.4,308.3L181.1,306.8L180.8,306L181.6,305.8L181.6,304.5L182.1,303.5L183.3,303.3L184.3,301.7L185.2,300.3L184.3,299.7L184.8,298.2L184.4,295.8L184.9,295.1L184.6,292.9L183.8,291.5L184.1,290.3L184.9,290.4L185.3,289.7L184.9,288.1Z"/>
<path fill="#fee8c8" d="M181.1,306.8L183.4,308.3L183.8,308.2L184.4,309.4L186.3,309.7L187,309.3L188.1,310.2L189.1,310.8L189.1,310.8L189.4,312.8L188.7,314.5L186.2,317.2L183.5,318.2L182.1,320.5L181.8,322.3L180.5,323.4L179.5,322L178.5,321.8L177.6,322L177.5,321L178.1,320.4L177.8,319.3L179,317.3L178.5,316.2L177.6,317.4L176.2,316.3L176.7,315.5L176.3,313.2L177.1,312.8L177.5,311.1L178.4,309.5L178.2,308.4L179.5,307.8Z"/>
<path fill="#fee8c8" d="M211.7,369.8L213.3,367.4L216.3,368.1L217.8,370L218.5,367.8L221.1,367.9L221.5,368.5L221.5,368.5L226.1,372.8L228,373.2L230.9,375.1L233.3,376.1L233.8,377.3L232.1,381.2L234.4,382L237,382.4L238.7,381.9L240.5,379.9L240.6,377.6L240.6,377.6L241.6,377.1L242.9,378.6L243.1,380.7L241.4,382.2L240.1,383.2L237.9,385.8L235.4,389.3L235.4,389.3L235.2,391.4L235.1,394.1L235.6,396.7L235.2,397.3L235.4,399L235.5,400.3L238.7,402.6L238.7,404.4L240.3,405.5L240.5,406.8L239.1,410.1L236.3,411.5L232.1,412.1L229.7,411.8L230.5,413.3L230.6,415.3L231.3,416.6L230.3,417.5L228.2,417.9L225.9,416.9L225.3,417.6L226.3,420.2L228,420.9L228.9,420.1L229.9,421.5L228.2,422.3L227,423.9L227.5,426.5L227.4,427.9L225.5,427.9L224.3,429.2L224.4,431.1L227,432.9L229.1,433.5L229.2,435.8L227.3,437.2L227.1,440.2L225.6,441.2L225.3,442.3L227,444.9L228.9,446.4L228,446.3L226,445.9L221.1,445.5L219.6,444.1L218.9,442.2L217.6,442.4L216.6,441.5L215.3,438.8L216.4,437.7L216.4,436L215.7,434.8L216,432.6L215.5,429.2L214.8,427.7L215.5,427.2L215,426.2L213.8,425.7L214.2,424.6L212.9,423.7L211.4,420.7L212.1,420.1L210.7,417L210.4,414.3L210.3,412L211.4,411.1L210,408.5L209.4,406.1L210.6,404.5L210,402.3L210.6,399.7L210.1,397.3L209.4,396.8L207.5,392.3L208.3,389.6L207.6,387.1L208,384.7L209.1,382.3L210.4,380.7L209.6,379.6L209.9,378.8L209.2,374.4L211.5,373.2L212,370.5L211.7,369.8ZM228.2,447.1L229.5,448.3L231.2,450.1L234.4,451.6L237.4,452.2L237,453.5L235.2,453.6L233.9,452.7L232.7,452.7L230.6,452.7Z"/>
<path fill="#fdd49e" d="M382.6,297.9L380.2,298.9L379.3,298.8L378.4,299.3L376.6,299.3L375.4,297.6L374.6,295.7L373,294L371.2,294L369.2,294L369.3,289.8L369.3,288.2L369.7,286.5L370.4,285.7L371.5,284.1L371.3,283.4L371.7,282.4L371.2,280.8L371.3,279.9L371.4,277.6L372.1,276.5L372.4,275.1L373,274.5L375.4,274.2L377.8,275.2L378.6,276.1L379.8,276.2L380.9,275.6L383.6,276.9L384.8,276.8L386.1,275.7L387.5,275.8L388.2,275.4L389.4,275.6L391.2,276.3L392.9,274.9L393.5,275L395.1,277.9L395.5,277.8L396.4,278.8L396.2,279.3L396.1,280.2L394.1,282.2L393.6,283.9L393.3,285.2L392.8,285.8L392.3,287.6L391.1,288.7L390.7,290L390.2,291.1L390,292.2L388.5,293.1L387.2,292L386.3,292L384.9,293.6L384.3,293.6L383.2,296.1Z"/>
<path fill="#fdd49e" d="M512.1,200.1L511,200.6L508.8,202.4L508.4,204.2L507.7,204.2L506.7,203L504,202.9L503,200.8L501.9,200.8L501.3,198.2L498.2,196.3L494.7,196.5L492.4,196.9L489.7,194.6L487.7,193.6L484,191.8L483.5,191.5L478.7,193.1L481.2,202.6L480.2,202.7L478.2,200.7L476.6,200L474.3,200.5L473.6,201.4L473.3,200.7L473.6,199.6L473,198.7L470.3,197.9L468.8,195.5L467.5,194.9L467.3,194.1L469.4,194.3L469,192.4L470.6,192L472.5,192.4L472.2,189.9L471.4,188.3L469.4,188.4L467.5,187.8L465.4,188.9L463.7,189.5L462.5,189.1L462.4,187.7L460.7,186L459.2,186.1L457.1,184.4L457.7,182.5L457,181.9L457.9,179.2L460.4,180.6L460.1,178.8L463.4,176.1L466.5,176L471.4,177.7L474.1,178.7L475.9,177.7L479,177.6L482,178.9L482.3,178.2L485.1,178.3L485.2,177.1L481.4,175.4L482.8,174.2L482.2,173.5L483.8,172.8L481.8,171.1L482.3,170.3L489.3,169.4L489.9,168.8L494.4,167.9L495.6,166.9L499.3,167.4L501.1,170L502.9,169.3L505.8,170.2L506.2,171.6L508,171.4L511.8,169.1L511.5,169.8L514.9,171.8L522.3,178.1L522.7,176.8L526.2,178.3L528.7,177.6L530,178.1L531.7,179.5L533.3,180L534.7,181.1L537.1,180.7L538.9,182.3L538.1,184L536.5,184.2L537.6,186.8L536.9,187.9L532.5,187.1L533,191.7L532.1,192.2L528.4,193.3L532,197.7L530.8,198.4L531.6,199.9L530.1,199.5L528.7,198.6L525.5,198.3L522,198.2L521.4,198.5L518,197.4L517,198L517.2,199.5L513.5,198.6L512.2,199Z"/>
<path fill="#fdd49e" d="M344,201.1L344.8,200.4L345.6,200.1L346.1,201.3L347.4,201.3L347.7,201L349,201.1L349.5,202.4L348.5,203.1L348.4,205.1L348.1,205.5L347.9,206.7L347,206.9L347.8,208.5L347.2,210.2L347.9,211L347.6,211.7L346.8,212.6L346.9,213.5L346,214.2L344.9,213.8L343.8,214.1L344.2,212.1L344,210.5L343.1,210.2L342.6,209.2L342.8,207.5L343.7,206.6L343.9,205.5L344.4,204L344.4,202.9L344,202Z"/>
<path fill="#fdd49e" d="M368,177.4L369.6,176.9L371,177.1L372.8,176.6L374.2,177.7L375.3,178.3L375.1,180L374.6,180.1L374.4,181.5L372.6,180.3L371.6,180.5L370.2,179.3L369.2,178.3L368.3,178.3Z"/>
<path fill="#fdd49e" d="M369.6,176.9L370.6,176.2L372.2,172.6L374.8,171.5L376.5,171.6L376.9,172.4L376.5,174.7L376,175.7L374.8,175.7L375.3,178.3L374.2,177.7L372.8,176.6L371,177.1Z"/>
<path fill="#fdd49e" d="M382.5,186.6L382.6,187L382.4,187.7L383.3,188.1L384.3,188.2L384.2,189.3L383.3,189.7L381.8,189.4L381.4,190.4L380.4,190.5L380.1,190.1L379,190.9L378,191L377.1,190.5L376.3,189.4L375.4,189.8L375.4,188.6L376.8,187.2L376.7,186.6L377.6,186.8L378.2,186.3L379.9,186.4L380.3,185.8Z"/>
<path fill="#fdd49e" d="M397.4,185.1L397.4,186.1L396.2,186.1L396.7,186.7L396.1,188.3L395.8,188.7L394,188.8L393,189.4L391.3,189.2L388.3,188.5L387.8,187.6L385.8,188.1L385.6,188.6L384.3,188.2L383.3,188.1L382.4,187.7L382.6,187L382.5,186.6L383.1,186.5L384.2,187.2L384.4,186.5L386.3,186.6L387.7,186.1L388.7,186.2L389.3,186.7L389.5,186.3L389.1,184.6L389.8,184.3L390.4,183.1L392,184L393,182.9L393.7,182.7L395.4,183.5L396.3,183.4L397.3,183.9L397.2,184.2Z"/>
<path fill="#fdd49e" d="M400.9,181.6L401,181.7L401.8,181.4L402.9,182.3L404.1,181.7L405,182L406.4,181.6L408.5,182.6L408,183.3L407.7,184.3L407.3,184.6L405,183.8L404.4,184L404,184.5L403.1,184.9L402.8,184.7L401.9,185.1L401.1,185.2L401,185.7L399.3,186L398.5,185.7L397.4,185.1L397.2,184.2L397.3,183.9L397.5,183.3L398.4,183.3L399.1,183.1L399.1,182.8L399.5,182.7L399.6,182.2L400,182L400.3,181.6Z"/>
<path fill="#fdd49e" d="M418.6,203.5L418.2,203.8L416.9,203.8L415.8,203.5L413.2,204.2L414.9,205.6L413.8,206.1L412.6,206.1L411.4,204.7L411.1,205.3L411.7,206.8L412.9,208.1L412.1,208.6L413.4,209.8L414.5,210.6L414.7,212L412.7,211.4L413.4,212.7L412,213L413.1,215.3L411.6,215.3L409.8,214.2L408.8,212.1L408.3,210.4L407.3,209.2L406.1,207.7L405.9,206.9L406.8,205.7L406.9,204.8L407.5,204.5L407.5,203.8L408.9,203.6L409.6,203L410.8,203L411.1,202.6L411.5,202.5L413,202.6L414.6,201.9L416.2,202.8L418.1,202.5L418,201.2L419.1,201.9ZM414.4,217.1L415.7,218L417.3,217.9L419,218.1L419,218.5L420.1,218.2L419.9,219L416.8,219.2L416.8,218.8L414.1,218.2Z"/>
<path fill="#fdd49e" d="M410.1,195L410.8,196.1L411.6,195.9L413.2,196.3L416.3,196.4L417.3,195.8L419.6,195.2L421.3,196.1L422.5,196.4L421.6,197.5L421,199.3L421.9,200.8L420.1,200.4L418,201.2L418.1,202.5L416.2,202.8L414.6,201.9L413,202.6L411.5,202.5L411.1,200.8L410,200L410.3,199.6L410.1,199.3L410.3,198.5L411,197.7L409.9,196.5L409.6,195.6Z"/>
<path fill="#fdd49e" d="M479.2,213.2L481,212.8L482.2,211.3L483.6,211.3L484.5,210.8L486.1,211.1L488.7,212.4L490.5,212.7L493.5,215L495.1,215.1L495.8,217.3L495.6,220.5L495.4,222.4L496.4,222.8L495.7,224.3L496.8,226.3L497.3,228L499,228.4L499.5,230.1L497.9,232.5L499.2,233.9L500.4,235.4L502.7,236.6L503.1,238.9L504.2,239.3L504.5,240.5L501.5,241.9L501,244.9L496.7,244.1L494.2,243.5L491.6,243.2L490.3,240L489.2,239.5L487.5,240L485.4,241.2L482.6,240.4L480.1,238.4L477.8,237.6L476,235.1L474,231.6L472.8,232.1L471.3,231.2L470.6,232.2L469.2,230.9L469,229.5L468.3,229.5L468.4,227.6L467,225.6L464.1,224.1L462.2,221.7L462.4,219.6L463.3,218.7L462.9,217.2L461.4,216.4L459.5,213.3L458,211.2L458.2,210.4L457.1,207.4L458.4,206.7L458.9,207.7L460.2,208.9L461.7,209.2L462.5,209.2L464.7,207.2L465.4,207.1L466.2,207.8L465.7,209.1L467.3,210.5L467.8,210.3L468.8,212.3L471,212.8L472.7,214.1L475.9,214.5L479.1,213.8Z"/>
<path fill="#fdbb84" d="M440.5,233.3L439.9,234.4L439.6,236.4L439.1,237.7L438.6,238.2L437.8,237.3L436.8,236.2L434.8,232.4L434.6,232.7L435.8,235.4L437.4,238L439.3,242.1L440.3,243.5L441.1,245L443.3,247.9L442.9,248.4L443.1,250.1L445.8,252.4L446.3,252.9L437.3,252.9L428.5,252.9L419.5,252.9L419,243.3L418.5,234L417.7,231.9L418.2,230.3L417.7,229.2L418.4,227.9L421.4,227.9L423.6,228.6L425.8,229.3L426.9,229.8L428.5,228.9L429.4,228.2L431.3,228L432.9,228.3L433.6,229.6L434,228.7L435.8,229.4L437.6,229.5L438.6,228.9Z"/>
<path fill="#fdbb84" d="M399.3,385.1L400.5,383.7L401.3,384.5L401.7,385.6L402.7,385.8L404,386.3L405.2,386.1L407.3,384.7L407.7,375.1L408.3,375.5L409.5,378L409.2,379.6L409.7,380.5L411.3,380.2L412.5,379L413.6,378.3L414.2,377L415.3,376.4L416.2,376.7L417.3,377.5L419.1,377.6L420.5,377L420.8,376.1L421.3,374.9L422.5,374.7L423.2,373.7L424.1,372L426.2,370L429.4,368.1L430.4,368.1L431.4,368.6L432.2,368.3L433.4,368.5L434.3,372.2L434.8,374.1L434.2,377L434.3,377.9L433.2,377.4L432.6,377.6L432.3,378.4L431.6,379.4L431.6,380.2L432.8,381.7L434.2,381.4L434.7,380.2L436.4,380.2L435.7,382.2L435.3,384.3L434.6,385.5L433,386.8L432.5,387.2L431.5,388.5L430.7,389.9L429.3,391.7L426.6,394.4L424.9,396L423.1,397.2L420.8,398.2L419.7,398.3L419.3,399.1L418,398.7L416.9,399.2L414.6,398.7L413.2,399L412.3,398.8L410,399.9L408.1,400.3L406.7,401.3L405.7,401.4L404.8,400.4L404.1,400.4L403.2,399.2L403.1,399.6L402.9,398.9L403,397.3L402.4,395.6L403.1,395.1L403.1,393.1L401.8,390.7L400.8,388.4Z"/>
<path fill="#fdbb84" d="M559.4,237.6L559.5,238.7L560.1,240.4L560,241.4L558.2,241.4L555.4,240.8L553.6,240.6L552.1,239.3L548.9,238.9L545.7,237.4L543.4,236.2L541,235.2L541.4,232.7L542.6,231.6L543.3,230.9L545.3,231.7L547.9,233.4L549.2,233.8L550.2,235.1L552.1,235.6L554.1,236.7L556.7,237.3Z"/>
<path fill="#fdbb84" d="M588.5,257.7L587.4,258.8L585.8,258.9L585.2,261.7L584.3,262.2L585.7,264.5L587.4,266.4L588.5,268.1L588,270.4L587.3,270.9L587.9,272.2L589.7,274.3L590.1,275.7L590.2,277L591.3,279.3L590.3,281.8L589.4,284.5L589,282.5L589.5,280.5L588.6,279L588.5,276.1L587.5,274.8L586.4,271.6L585.6,268.3L584.3,266.2L583,267.5L580.6,269.4L579.3,269.1L577.8,268.5L578.2,265.3L577.4,262.8L575.2,259.8L575.4,258.9L574,258.5L572.1,256.4L571.6,254.3L572.5,254.7L572.2,252.8L573.3,252.2L572.9,251.1L573.3,250.2L572.9,247.5L574.8,248.1L575.4,245.9L575.3,244.7L576.1,242.5L575.7,241L578.3,239.2L580,239.7L579.4,238L580.1,237.6L579.7,236.6L580.9,236.4L582.1,237.9L583.2,238.5L583.7,240.6L584,242.7L582.3,244.9L582.6,248L584.9,247.6L585.9,250L587.4,250.5L587,252.6L588.9,253.6L589.9,254.1L591.5,253.3L591.7,254.4L590.1,256.1L589.7,257.1Z"/>
<path fill="#fdbb84" d="M638.7,262.1L640.2,262.8L640.8,262.1L641.1,262.8L640.9,263.9L642,265.8L641.8,267.9L640.5,268.8L640.5,270.9L641.3,273L642.6,273.3L643.5,272.9L646.6,274.4L646.5,275.8L647.4,276.4L647.3,277.6L645.3,276.4L644.3,275L643.8,275.9L642.2,274.4L640.2,274.8L638.9,274.2L638.9,273.1L639.5,272.4L638.8,271.8L638.6,272.8L637.3,271.3L636.8,270.1L636.3,267.7L637.4,268.5L637,264.4L637.3,262.1ZM653.6,288.4L654,290.2L654.2,291.6L653.6,294L652.6,291.4L651.6,292.7L652.4,294.6L651.9,295.8L649,294.3L648.3,292.4L648.9,291.2L647.4,289.9L646.7,291L645.6,290.9L644,292.4L643.6,291.6L644.3,289.4L645.7,288.7L646.9,287.7L647.8,288.9L649.5,288.2L649.8,287L651.4,286.9L651.1,284.9L653.1,286.1L653.4,287.5ZM637.1,280.7L637.8,282.8L636.4,284.3L635.3,286.1L632.4,288.5L633.4,286.7L635,285.1L636.2,283.3ZM647.7,277.6L649.9,277.6L650.6,278.6L651.6,281.5L649.8,280.9L649.9,281.7L650.6,283.3L649.6,283.9L649.3,282.1L648.6,282L648.1,280.4L649.5,280.6L649.3,279.6ZM647.7,283.5L646.9,284.4L646.4,286.1L645.7,286.8L644.1,285L644.6,284.3L645.1,283.6L645.2,282L646.4,281.8L646.2,283.6L647.7,281.1ZM642.4,279.3L643.9,280.2L645.4,280.2L645.4,281.2L644.5,282.3L643.1,283.1L642.9,281.9L642.9,280.6ZM638.4,275.2L640.3,275.3L641.3,276.3L640.9,278.5L639.8,277.2Z"/>
<path fill="#fdbb84" d="M344,201.1L344.2,199.3L343.4,198.1L346.4,196.3L348.9,196.7L351.7,196.7L353.9,197.2L355.7,197L359,197.1L359.9,198.1L363.7,199.3L364.5,198.7L366.8,199.9L369.3,199.6L369.4,201.1L367.4,202.8L364.7,203.3L364.5,204.2L363.2,205.6L362.4,207.8L363.2,209.2L362,210.4L361.5,212.1L359.9,212.6L358.4,214.6L355.6,214.7L353.6,214.6L352.2,215.5L351.3,216.5L350.3,216.3L349.5,215.4L348.9,213.9L346.9,213.5L346.8,212.6L347.6,211.7L347.9,211L347.2,210.2L347.8,208.5L347,206.9L347.9,206.7L348.1,205.5L348.4,205.1L348.5,203.1L349.5,202.4L349,201.1L347.7,201L347.4,201.3L346.1,201.3L345.6,200.1L344.8,200.4Z"/>
<path fill="#fdbb84" d="M397.3,183.9L396.3,183.4L395.4,183.5L393.7,182.7L393,182.9L392,184L390.4,183.1L389.2,182.1L388.1,181.4L387.9,180.4L387.5,179.6L388.9,179.1L389.6,178.5L391,178L391.4,177.5L392,177.8L392.8,177.5L393.8,178.3L395.4,178.5L395.3,179.2L396.4,179.7L396.7,179.1L398.1,179.4L398.3,180.2L399.8,180.3L400.9,181.6L400.3,181.6L400,182L399.6,182.2L399.5,182.7L399.1,182.8L399.1,183.1L398.4,183.3L397.5,183.3Z"/>
<path fill="#fdbb84" d="M396.1,188.3L396.7,186.7L396.2,186.1L397.4,186.1L397.4,185.1L398.5,185.7L399.3,186L401,185.7L401.1,185.2L401.9,185.1L402.8,184.7L403.1,184.9L404,184.5L404.4,184L405,183.8L407.3,184.6L407.7,184.3L408.9,185L409.1,185.7L407.9,186.2L407.2,188L406.1,189.7L404.5,190.2L403.2,190L401.7,190.7L401,191.1L399.2,190.6L397.6,189.5L396.9,189.2L396.5,188.3Z"/>
<path fill="#fdbb84" d="M408.6,170.5L410.5,170.5L412.5,169.6L412.7,168.2L414.2,167.4L413.8,166.3L414.9,165.9L416.8,164.9L418.9,165.5L419.3,166.2L420.2,165.9L422.2,166.5L422.6,167.6L422.4,168.3L423.9,169.9L424.8,170.4L424.7,170.8L426.2,171.2L426.8,171.9L426.2,172.5L424.6,172.4L424.3,172.6L424.9,173.4L425.7,175L424,175.2L423.5,175.7L423.6,177L422.8,176.7L421,176.9L420.4,176.3L419.7,176.7L418.9,176.4L417.3,176.3L415,175.7L413,175.5L411.5,175.6L410.5,176.2L409.6,176.3L409.4,175.2L408.6,174.1L409.7,173.6L409.6,172.6L408.9,171.6Z"/>
<path fill="#fdbb84" d="M115.3,182.8L121.1,182.8L127.8,182.8L134.5,182.8L141.2,182.8L147.9,182.8L154.7,182.8L161.4,182.8L171.1,182.8L171.6,181.9L172.3,181.8L172,183.2L173.7,183.8L175.6,184.2L177.2,185L179,184.7L181.2,185.4L184,184.6L189.5,188.2L190.6,189.2L191.3,190.2L191,190.9L192.7,192.1L191.7,196.7L190.5,198.3L188.2,200.6L189.2,201.6L192.2,200.2L194.5,199.8L197.7,198.6L197.8,197L198.9,196.6L202.8,196.6L203.9,195.6L207.1,193.5L208.2,193L215.1,193L215.6,192.4L217.3,191.9L218.4,190.7L219.7,188.7L222,186.8L222.4,187.4L223.9,187L224.6,187.8L223.4,191.3L224.3,192.7L224.4,193.5L226.7,192.4L229.6,191.3L230.1,192.3L226.6,194.1L225.2,196.1L226.5,196.9L229.7,194.8L231.4,194.1L236,192.5L237.1,192.1L239.6,190.7L240,190L239.6,187.9L238.1,189L236.3,191.4L234.3,191.3L231.9,190.5L230.6,190L230.4,187.9L231.3,185.9L229.4,185.6L228.3,185.3L231.1,185.4L233.1,184.1L233,182.8L231.2,182.2L228.6,182.6L225.5,183.9L221.9,185.6L219,187.9L217.4,188.4L220.2,186.4L222.1,184.9L224.9,182.8L227.8,181.6L230.2,179.8L235.1,179.5L239.5,180.1L243.1,179.5L246.9,177.3L250.1,176.5L253.2,174.8L254,172L251.7,170.3L251.1,168.3L248.4,167.3L247.2,165.8L245.3,164.4L246.7,162.9L245.9,160L244.9,156.9L244.4,154.8L242.6,155.9L239.6,158.5L235.5,158.5L234.1,158.1L235,155.2L236.1,153L232.9,152.9L231.4,150.7L230.2,149.9L226.6,150.2L223.9,149.6L222.3,150.2L220.7,153.8L220.4,155.9L216.7,158.5L218,160.4L218.2,162.4L217.5,164.1L215.5,165.8L212.5,167.6L208.9,168.6L209.5,170L208.6,173.8L206.3,176.5L204.4,177.3L203.6,176L202.6,172L204.6,167.6L199.6,167.1L196.2,165.4L194.3,163.2L191.3,162.2L188.3,162.7L188.6,160.7L186.7,158.3L188.7,155.4L190.9,153.5L194.5,150.9L198,149L200.5,148.6L201.7,147.2L203.8,146.2L206.4,146L209.7,144.4L213.8,141.4L215.2,140.3L216.6,141L219.2,140.7L222.2,139.4L223.5,139.2L224.3,138L223.7,136L226.9,134.5L225.6,133.4L222.1,132.8L221.1,132.9L219.1,135.4L216.4,137.4L213.5,138.9L213,137.4L214.7,135.8L213.8,134.3L212,133.8L210.2,136L208,135.8L207.1,133.8L210.6,131.6L211.2,129.9L210.2,128.4L207.1,129.3L205.8,131.4L203.3,132.7L204,134L205.2,134.7L201.7,136.7L204.9,136.7L200.2,138L198.7,138.7L195.7,137.6L190.2,137.8L185.7,137.1L184.4,135.4L179,136.5L179.9,137.4L177,138.5L174.6,137.6L169.8,137.8L167.2,137.4L170.6,136.2L167.7,135.2L162.8,134L157.9,133.6L154.5,133.8L157.1,132.4L152.6,131.8L148.3,132.3L144.8,132.8L139.9,134L139.1,133.6L133.8,135.1L131,133.8L128.4,133.4L120,140.3L111.8,147.5L104,154.9L105.7,155L106.8,155.7L107,156.7L107.1,158.3L110.2,157L112.9,156.2L112.6,157.4L112.9,158.4L113.6,159.5L113.1,161.2L112.6,164L114.5,165.5L113.2,167.1L111.1,168.3L110.5,169.5L111,171.3L110,174.8L109.5,176.8L109.3,178.3L112,179.3L112,181.6L113.4,182.6L115.1,182.8ZM242.1,186.4L245.3,182.6L248.6,178.5L250.5,177L252.9,176.3L252.1,177.8L251.2,178.5L249.1,180.8L250.8,179.9L251.8,180.6L251,181.3L252.5,182.1L253.5,181.4L255.3,182.2L254.2,184.1L255.7,183.6L255.5,185L255.8,186.7L254.3,188.8L253.5,189L252.2,188.4L253.2,186.4L252.8,186L249.8,188.2L248.5,188.2L250.3,186.9L248.5,186.4L246.4,186.4ZM113.2,184.1L112,184.4L109.3,183.3L109.4,182.3L108.1,181.6L108.3,180.8L106.6,180.3L106.8,179L107.4,178.4L109.1,178.9L110,179.3L111.7,179.5L111.8,180.4L112,181.6L113.3,182.7ZM105.3,170.2L107.3,170L104.4,172.8L104.5,174.8L103.7,174.8L103.4,173.7L103.6,172.5L103.3,171.8L103.8,170.7L104.6,169.9ZM257.4,140.3L255.4,141.2L251,143.9L249.4,143L247.8,140.7L245.4,141L244.5,142.3L245.5,143.7L247.4,144.7L247.8,145.3L247.7,147.6L246.3,149.3L244.2,148.8L240.8,146.8L243.5,150.2L243.2,151.1L238.8,150.2L235.8,148.8L234.3,147.6L235.3,146.9L231.5,144.6L231.1,145.3L225.7,145.8L224.6,144.8L226.9,143.2L230.2,143.2L233.9,142.9L233.9,142.1L235.2,141L238.8,138.7L238.9,137.8L238.8,136.9L236.9,135.9L233.9,135.1L235.4,134.6L234.5,133.2L233,133.2L232.3,132.3L231,132.9L227.7,133.4L222.2,132.7L219.1,132.1L216.6,131.8L216,131L218.4,130.1L216.1,130.1L217.5,128L220.5,126.1L222.8,125.3L227.5,124.6L225.1,125.9L225.1,127.4L228.1,125.7L232.9,124.7L233.8,126.9L232.5,128.3L236.1,127.7L238.4,126.8L241,128L242.7,128.8L242.1,129.9L245.6,129.3L246.2,130.8L249.6,131.6L250.6,132.5L250.9,134.5L247.2,135.6L250.4,137L252.7,137.5L254.1,139.6L256.7,139.7ZM171.9,136L172,134.9L170.4,134.3L168.7,134.5L168.5,132.7L169.7,132.5L172.6,132.3L174.9,132.3L177.5,131.8L174.8,131.4L171,131.6L168.7,131.6L168.8,130.8L173.6,129.9L171,129.9L168.9,129.3L171.9,127.8L174,126.9L179.8,125.7L180.9,126.1L179,127L183.4,126.4L184.4,127.5L187.5,126.4L188.1,127.1L187.2,129.2L189,128.3L190.2,126.1L191.8,125.9L193.2,126.1L194.1,126.9L192.9,129.1L191.8,130.6L193.6,131.6L195.6,132.7L194.6,133.6L191.7,133.8L191.9,134.7L190.7,135.5L188,135.1L185.7,134.5L183.6,134.7L179.7,135.4L175.1,135.8ZM166.7,129.7L161.1,130.8L161.3,129.9L159.1,128.6L160.8,127.8L163.8,126.3L167.1,124.8L167.1,123.6L172.8,123.3L174.4,123.8L178.3,123.8L179.1,124.4L179.8,125.3L177,125.9L171.5,127.4L167.7,128.8ZM269.7,107.5L273.2,107.6L275.9,107.8L278,108.3L277.6,108.6L273.6,109.4L269.9,109.7L268.4,110L271.4,110L267.2,111L264.3,111.5L260.6,112.9L257.3,113.3L255.9,113.6L251.4,113.8L253.2,114L251.8,114.4L252.1,115.3L250.2,115.9L247.3,116.5L245.8,117.2L243.2,117.8L243,118.2L245.6,118.2L245.2,118.6L240,119.8L236.5,119.3L231.8,119.6L229.7,119.4L227.1,119.2L227.8,118.3L231.1,117.8L231.8,116.5L233,116.3L235.9,117.2L235.4,115.9L233.3,115.5L235.4,114.8L238.4,114.4L239.6,113.7L238.3,113.1L238.9,112.1L242.7,112.2L243.6,112.3L246.6,111.7L243.6,111.5L238.4,111.7L236.6,111L236.3,110.4L235.2,109.9L235.7,109.4L238.2,109L239.9,109L242.9,108.7L245.6,108.2L247.2,108.3L248.1,108.7L250.3,107.9L252.3,107.6L255,107.5L259.3,107.3L259.8,107.6L264,107.3L266.8,107.3ZM238.9,122.4L237.4,122.9L234.8,123.3L233,123.1L228.1,123.4L224.9,123.4L222.6,123.2L219.2,122.5L219.7,121.4L220.6,120.4L219.9,119.6L217,119.3L216.1,118.7L217.5,117.9L220.5,118L221.5,118.6L224.5,118.6L225.1,119.3L223.9,120L225.2,120.5L225.7,121L227.8,121L229.8,121.2L232.6,120.8L236,120.6L238.3,120.8L239.3,121.5ZM214.7,142.4L214.4,143.5L215.5,143.1L216.1,143.7L217.5,144.5L219.1,145.2L218.5,146.3L220,146.1L220.7,146.9L218.7,147.6L216.3,147.1L216,146L213.4,147.2L210.1,148.4L210.3,147.1L207.8,147.3L210.1,146.1L211.6,144.4L213.6,142.2ZM213.8,126.8L210.5,128.4L208.8,128.3L209.6,126.4L210.6,125.4L212.3,124.5L214.4,124L217.7,124L220.2,124.5L216.1,126.4ZM205.9,129.1L202.4,130L201.1,129.8L200.7,129L198.3,127.4L199,126.7L202.1,126.9L201.7,125.6L204.6,124.6L206,125L209.1,124.7L208.9,125.3L206.5,126.3L208,127.2ZM202.7,134.7L201.1,135.4L199.4,134.8L197.8,135L196.4,134L198.4,133.4L200.5,132.4L201.6,133L202.3,133.4L202.4,133.8ZM197.9,119.8L197.6,120.5L199.4,120.2L200.8,120.2L200,121.2L197.9,122.2L192.2,122.5L187.3,123.4L184.9,123.4L185.4,122.7L189.7,121.8L182.5,122.1L180.7,121.8L185.5,119.8L187.7,119.2L191,119.9L192.3,121.1L194.7,121.2L195,119.3L197.3,118.6ZM214.1,119.6L212.9,120.7L210.5,122.2L207.8,122.4L206.4,122L207.8,120.9L205.1,121L206.8,119.5L208.4,119.6L211.5,118.9L213.5,119.0ZM237.5,113.1L238.6,113.7L235.9,114.3L231.6,115.7L228.8,115.9L226,115.6L225.4,114.8L226.2,114.2L228,113.7L225.3,113.7L224.5,113.1L224.7,112.2L228.4,111L230,110.8L229.9,110.5L233.2,110.4L233.9,111.3L237.7,112.0ZM189.7,116.9L187.3,118.4L185.2,119.1L183.6,119.2L179.6,120.1L176.8,120.4L175.3,120L180,118.5L184.9,117.2L187.2,117.2ZM217.9,115.4L218.8,114.6L220.6,114.7L221.3,114.8L222.2,115.5L221,116.2L218.3,116.6L217.7,116.1ZM222.7,117.2L219.3,117.1L219.6,116.6L222.6,116.6ZM198.7,116.8L195.2,117.4L193.8,116.8L196,116.2L198.4,116L200.1,116.3ZM202,115.1L199.6,115.5L197.2,115.5L197.6,115.2L199.9,114.7L200.6,114.7ZM217.6,122.2L215.9,123L213.8,122.8L212.4,122.4L214.3,121.4L217.1,120.9L217.7,121.6ZM235.3,126.7L234.5,125.6L235.2,124.9L236,124.7L239.5,124.9L241.3,126.1L241,126.7L239.4,126.6L237.7,126.6L235.7,126.9ZM233,139L231.1,139.2L231.4,138.1L232.9,136.8L234.6,136.5L235.6,137.1L235,138.1ZM216,149.3L213.1,150.5L211.9,150.5L211.9,149.9L213.9,148.8L216.3,148.8ZM219.2,150L220,150.5L218.5,151.8L217.8,151.6L217.8,150.9ZM233.7,180.6L238.5,182.6L237.5,182.6L235.1,181.8ZM232.3,187.8L232.6,189.1L234,189.4L235.9,189.4L234.6,190.4L233.8,190.6L231.5,189.5L231.3,188.6Z"/>
<path fill="#fdbb84" d="M243.9,299.5L244.7,299.4L245.3,300.9L246.5,305.4L247.7,305.9L247.8,307.7L246,309.8L246.7,310.6L250.8,311L250.9,313.6L252.7,311.9L255.6,312.9L259.4,314.4L260.5,316L260.2,317.4L262.8,316.6L267.4,318L270.8,317.9L274.2,320.1L277.2,323L279,323.7L281,323.9L281.8,324.7L282.7,328L283.1,329.6L282.3,333.9L281.1,335.6L278,339.2L276.6,342.2L275,344.5L274.5,344.5L273.9,346.4L274.3,351.3L273.8,355.4L273.7,357.1L273,358.1L272.8,361.6L270.8,365L270.5,367.7L268.8,368.8L268.4,370.4L265.9,370.4L262.4,371.4L260.9,372.6L258.5,373.3L256,375.4L254.3,378L254.2,379.9L254.8,381.4L254.6,384L254.3,385.3L252.9,386.7L251.1,391.3L249.4,393.4L248.1,394.6L247.5,397.1L246.3,398.6L245.5,397.1L246.2,395.9L244.7,394.1L242.7,392.7L240.2,391L239.4,391.1L236.8,389L235.4,389.3L235.4,389.3L237.9,385.8L240.1,383.2L241.4,382.2L243.1,380.7L242.9,378.6L241.6,377.1L240.6,377.6L240.6,377.6L240.8,376.1L241,374.6L240.9,373.1L240,372.7L239.2,373.1L238.4,373L238,372L237.6,369.6L237.1,368.8L235.5,368.1L234.6,368.6L232.2,368.1L232,364.5L231.2,363.1L231.2,363.1L231.9,362.6L231.5,361.1L232,359.9L232.3,357.9L231.6,356.2L230.3,355.5L230,354.5L230.2,353L225.8,352.9L224.7,349.8L225.4,349.8L225.3,348.7L224.8,347.9L224.6,346.4L223.2,345.6L221.8,345.6L220.8,344.9L219.2,344.4L218.2,343.4L215.6,342.9L213,340.6L213.1,338.9L212.8,337.9L212.9,335.9L209.9,336.3L208.8,337.3L206.8,338.4L206.3,339.2L205.2,339.2L203.4,339L203.4,339L202.2,339.4L201.1,339.2L201.1,335.2L199.3,336.7L197.2,336.7L196.3,335.3L194.7,335.1L195.2,334L193.8,332.4L192.8,330L193.4,329.6L193.3,328.5L194.7,327.7L194.4,326.3L195,325.4L195.1,324.2L197.6,322.4L199.5,321.9L199.8,321.5L201.9,321.6L201.9,321.6L202.8,314.5L202.8,313.3L202.5,311.8L201.4,310.9L201.4,309L202.8,308.5L203.2,308.8L203.3,307.8L202,307.6L201.9,305.9L206.4,306L207.2,305.1L207.8,305.9L208.3,307.4L208.7,307.1L208.7,307.1L210,308.5L211.8,308.3L212.2,307.5L213.9,306.9L214.9,306.5L215.2,305.4L216.8,304.7L216.7,304.1L214.8,303.9L214.5,302.2L214.6,300.5L213.6,299.8L214,299.6L215.7,299.9L217.5,300.6L218.2,299.9L219.9,299.5L222.5,298.5L223.4,297.5L223.1,296.8L223.1,296.8L224.3,296.7L224.8,297.3L224.5,298.5L225.2,298.9L225.7,300.1L225.1,301L224.7,303.2L225.2,304.5L225.4,305.7L226.8,307L227.9,307.1L228.2,306.6L228.9,306.5L230,306L230.7,305.3L232,305.5L232.6,305.4L232.6,305.4L233.8,305.6L234,305.1L233.7,304.6L233.9,303.8L234.8,304.1L235.9,303.8L237.2,304.4L237.2,304.4L238.2,304.9L239,304.2L239.5,304.3L239.8,305L240.9,304.9L241.8,303.9L242.5,301.9L243.9,299.5Z"/>
<path fill="#fc8d59" d="M525,213.4L526.9,214.6L528.1,216.6L532,217.7L530.4,219.9L528.1,220.3L524.6,219.6L523.9,220.8L525.2,223.1L526.4,224.8L528.4,226.1L526.9,227.6L527.3,229.5L525.7,232.1L524.8,234.8L523,237.5L520.4,237.3L518.3,240L520,241.2L520.5,243.2L522,244.5L522.7,246.8L517.7,246.8L516.5,248.5L514.7,247.9L513.9,246L511.9,244L507.8,244.5L504.2,244.5L501,244.9L501.5,241.9L504.5,240.5L504.2,239.3L503.1,238.9L502.7,236.6L500.4,235.4L499.2,233.9L497.9,232.5L501.8,233.8L504,233.4L505.4,233.8L505.7,233.2L507.3,233.4L510,232.3L509.7,230.1L510.6,228.6L512.3,228.6L512.4,227.9L514,227.6L514.9,227.8L515.6,227.1L515.1,225.5L515.7,223.9L517,223.3L515.7,221.5L517.8,221.6L518.2,220.7L517.9,219.7L518.7,218.6L518.1,217.3L517.3,216.2L518.3,215L520.5,214.5L522.9,214.2L523.8,213.7Z"/>
<path fill="#fc8d59" d="M598.1,278.6L595.9,277.4L594,277.4L594.1,275.4L592.1,275.4L592.2,278.2L591.3,282.1L590.7,284.4L591,286.3L592.5,286.3L593.6,288.7L594.2,291L595.5,292.5L596.9,292.8L598.2,294.2L597.5,295.2L596,295.5L595.8,294.2L593.8,293.1L593.4,293.5L592.5,292.5L592,291.2L590.7,289.7L589.5,288.5L589.2,290.1L588.7,288.6L588.9,287L589.4,284.5L590.3,281.8L591.3,279.3L590.2,277L590.1,275.7L589.7,274.3L587.9,272.2L587.3,270.9L588,270.4L588.5,268.1L587.4,266.4L585.7,264.5L584.3,262.2L585.2,261.7L585.8,258.9L587.4,258.8L588.5,257.7L589.7,257.1L590.8,257.9L591.2,259.4L592.8,259.6L592.6,262.3L593,264.7L595.2,263.1L595.9,263.6L597.2,263.5L597.6,262.6L599.3,262.8L601.4,264.9L601.9,267.5L604,269.7L604.2,272L603.6,273.1L601.4,272.7L598.5,273.2L597.3,275.4Z"/>
<path fill="#fc8d59" d="M607.2,254.1L604.6,256.3L603.1,258.8L602.9,260.6L605,263.4L607.6,266.8L609.9,268.4L611.6,270.5L613.2,275.3L613.4,279.9L611.7,281.6L609.2,283.3L607.5,285.5L604.8,287.9L603.8,286.3L604.4,284.5L602.5,283L604.4,282L606.8,281.8L605.7,280.2L609.3,278.2L609.3,275L608.5,273.3L608.6,270.7L607.8,268.8L605.9,267L604.1,264.7L601.7,261.6L598.8,260.1L599.3,259.2L600.6,258.4L599.4,256.2L596.6,256.1L595.2,253.8L593.5,251.7L594.6,251.1L596.4,251.1L598.6,250.8L600.2,249.4L601.5,250.4L603.7,250.9L603.6,252.4L604.8,253.4Z"/>
<path fill="#fc8d59" d="M582.5,296.1L587.6,296.7L589.7,299.2L591.6,301L592.9,302.1L595.2,304.9L597.5,305L599.5,306.7L600.8,308.9L602.6,310.1L601.7,312.3L603,313.2L603.8,313.2L604.2,315L604.9,316.5L606.6,316.7L607.7,318.4L607,321.7L606.7,325.7L604.2,325.7L602.3,323.6L599.4,321.4L598.5,319.8L596.9,317.7L595.8,315.8L594.1,312.1L592,309.9L591.3,307.7L590.5,305.6L588.3,304L587.1,301.8L585.3,300.3L582.8,297.4ZM607.2,325.8L610,325.9L611.8,327L612.8,327.2L613,328.1L617.4,328.4L618,327.3L622.2,328.6L622.9,330.2L626.4,330.7L629.1,332.3L626.4,333.3L623.9,332.2L621.8,332.3L619.5,332.1L617.4,331.6L614.8,330.6L613.1,330.4L612.1,330.7L608,329.6L607.6,328.5L605.5,328.3ZM634.7,299.6L633.5,302L635.3,304.4L634.9,305.6L637.5,308L634.8,308.4L634.1,310.1L634.1,312.5L631.9,314.3L631.8,316.9L630.8,320.9L630.4,320L627.8,321.1L626.9,319.5L625.3,319.4L624.2,318.5L621.4,319.5L620.6,318.2L619.1,318.4L617.2,318.1L616.9,314.6L615.8,313.8L614.7,311.6L614.4,309.3L614.6,306.9L616,305.1L616.4,306.9L618,308.4L619.5,307.8L620.9,308L622.3,306.7L623.4,306.5L625.6,307.2L627.4,306.7L628.5,303L629.4,302.1L630.1,299.1L632.7,299.1ZM651.9,306.7L650.1,309.3L648.4,309.8L646.2,309.3L642.3,309.4L640.3,309.8L640,311.8L642,314.1L643.3,312.9L647.6,312L647.4,313.2L646.4,312.8L645.4,314.4L643.3,315.4L645.4,318.7L644.9,319.6L646.8,322.6L646.7,324.3L645.5,325.1L644.6,324.2L645.8,322L643.5,323.1L643,322.3L643.3,321.3L641.8,319.8L642,317.3L640.5,318.1L640.5,321.1L640.4,324.8L638.9,325.2L638,324.5L638.8,322L638.5,319.5L637.6,319.5L636.9,317.7L637.9,316L638.3,313.9L639.5,310L640,308.9L641.9,307L643.7,307.8L646.6,308.1L649.3,308L651.5,306.1ZM688.2,317.2L687.7,325.7L687.1,334.2L685.3,332.1L683,331.6L682.4,332.3L679.4,332.4L680.6,330.3L682.1,329.5L681.7,326.7L680.7,324.5L676.4,322.3L674.5,322L671.2,319.6L670.4,320.9L669.5,321.1L669.1,320.2L669.1,319L667.4,317.8L669.9,316.8L671.6,316.9L671.4,316.2L668,316.2L667.2,314.6L665.1,314.1L664.1,312.9L667.3,312.2L668.4,311.4L672.1,312.4L672.5,313.4L673,317.6L675.4,319.2L677.4,316.4L680.1,314.8L682.1,314.8L684.1,315.8L685.8,316.7ZM646.7,337.5L646.5,337.1L646.8,336.3L647.9,334.7L650.3,333.6L650.5,334.1L650.4,334.9L648.8,336.9ZM645.7,331.5L645.2,333L641.7,333.7L638.7,333.4L638.8,332.4L640.6,331.9L642,332.7L643.6,332.5ZM634.9,332.2L636.4,332L636.9,333.2L634.2,333.7L632.6,334L631.3,334L632.2,332.5L633.5,332.5L634.2,331.6ZM640.4,336.4L639.7,335.7L638.5,334.8L636.3,335.4L639.2,337.2ZM658.1,304.7L658.3,306.1L659.7,306.4L659.9,307.4L659.8,309.7L658.6,309.5L658.3,311.1L659.2,312.4L658.6,312.8L657.6,311.1L656.9,307.8L657.4,305.7ZM661.4,317.7L663.9,318.5L664.6,320.5L662.7,319.4L660.8,319.2L659.5,319.4L657.9,319.3L658.5,317.8ZM655.5,320.3L653.9,319.8L653.5,318.7L655.9,318.6L656.4,319.4Z"/>
<path fill="#fc8d59" d="M637.3,199.7L637.9,200.2L637,200.1L636.6,200.9L636.4,201.8L637.6,203.7L636.8,204.2L636.6,204.7L636.3,205.5L635.1,205.9L634.5,206.6L635,207.7L634.9,208L636,208.4L637.8,209.6L637.8,210.2L637,210.4L635.5,210.5L635.2,211.7L634.2,211.6L634.2,211.8L632.9,211.3L632.9,211.8L632.4,212L632.1,211.5L631.4,211.3L630.6,210.9L630.7,209.7L631,209.4L630.6,209L630.4,207.5L630.1,207.1L628.7,206.8L627.3,206.1L628.2,204.5L629.8,203.1L630.2,201.2L631.7,202.1L633.6,202.2L632.5,200.8L635.1,199.7L635,198.2Z"/>
<path fill="#fc8d59" d="M637.8,209.6L641.1,212.6L642.5,214.3L643.9,217.3L643.7,218.8L642,219.3L640.7,220.3L638.8,220.6L637.9,219.2L637.5,217.2L635.3,214.5L636.7,214.1L634.2,211.8L634.2,211.6L635.2,211.7L635.5,210.5L637,210.4L637.8,210.2Z"/>
<path fill="#fc8d59" d="M105.8,225.4L108.4,225.2L111.2,224.9L110.8,225.4L113.7,226.7L118.2,228.6L122.5,228.5L124.3,228.5L124.6,227.5L128.4,227.5L129,228.4L129.8,229.2L130.8,230.4L131.2,231.7L131.3,233.2L132.3,233.9L133.9,234.7L135.8,232.7L137.7,232.6L138.9,233.7L139.6,235.4L140,237L141,238.5L141.1,240.3L141.4,241.5L143,242.3L144.5,242.9L145.4,242.8L144,245.1L143.3,247L142.6,250.5L142.2,251.8L142.3,253.2L142.8,254.5L143,256.5L144.2,258.4L144.5,259.9L145.2,261.2L147.5,261.9L148.3,263L150.4,262.3L152.2,262L153.9,261.6L155.4,261.1L157,260L157.8,258.5L158.3,256.3L158.8,255.5L160.4,254.9L162.9,254.3L164.9,254.3L166.3,254.1L166.7,254.7L166.5,255.9L165.1,257.5L164.3,259.1L164.6,259.5L164.2,260.7L163.3,262.7L162.8,262L162.4,262.1L161.9,262.1L160.9,263.7L160.5,263.4L160.2,263.5L160.2,263.9L158.1,263.9L156,263.9L155.8,265.3L154.8,265.3L155.5,266.2L156.3,266.8L156.5,267.4L156.8,267.5L156.7,268.4L153.7,268.4L152.4,270.6L152.7,271.1L152.3,271.7L152.2,272.4L149.9,269.6L148.8,268.8L147.1,268.1L145.8,268.3L143.8,269.3L142.6,269.5L141.1,268.8L139.5,268.3L137.5,267.1L135.8,266.8L133.4,265.6L131.7,264.3L131.2,263.6L129.9,263.4L127.7,262.6L127,261.4L124.8,259.9L123.9,258.3L123.6,257L124.4,256.8L124.3,256L124.9,255.3L125,254.4L124.5,253.3L124.5,252.2L123.9,250.9L122.4,248.3L120.5,246.3L119.7,244.7L118,243.6L117.8,243L118.5,241.3L117.5,240.7L116.5,239.5L116.4,237.6L115.2,237.4L114.3,236L113.6,234.8L113.8,233.9L113.1,232L113,230L113.3,229L112.1,227.9L111.3,228.1L110.3,227.3L109.6,228.4L109.5,229.7L109.1,231.6L109.6,232.7L110.7,234.5L110.9,235.1L111.2,235.3L111.2,236.2L111.6,236.1L111.6,237.8L112.1,238.5L112.4,239.4L113.4,240.8L113.6,243.2L114,244.3L114.4,245.5L114.2,246.9L115.3,247L116,248.2L116.6,249.4L116.4,249.8L115.3,250.8L114.9,250.8L114.6,249.2L113.4,247.7L112,246.5L111,245.8L111.5,243.9L111.5,242.5L110.6,241.7L109.4,240.5L109,240.8L108.6,240.1L107.4,239.5L106.4,238L106.7,237.8L107.5,237.9L108.6,236.9L109.1,235.8L107.9,233.9L106.8,233.2L106.4,231.6L106.2,229.8L105.9,227.8Z"/>
<path fill="#fc8d59" d="M359,197.1L360.1,195.6L360.6,190.5L358.4,187.8L357,186.5L353.9,185.5L353.7,183.7L356.3,183.1L359.7,183.8L359.1,180.9L361,182L365.7,180L366.3,177.9L368,177.4L368.3,178.3L369.2,178.3L370.2,179.3L371.6,180.5L372.6,180.3L374.4,181.5L374.9,181.7L375.4,181.7L376.4,182.3L379.3,182.8L378.4,184.5L378.2,186.3L377.6,186.8L376.7,186.6L376.8,187.2L375.4,188.6L375.4,189.8L376.3,189.4L377.1,190.5L377,191.2L377.7,192.2L377,193L377.6,195L378.7,195.3L378.5,196.4L376.7,197.9L372.5,197.2L369.5,198L369.3,199.6L366.8,199.9L364.5,198.7L363.7,199.3L359.9,198.1ZM381.3,199.2L382.6,198.2L383.1,200.4L382.5,202.4L381.5,201.9L380.9,200.1Z"/>
<path fill="#fc8d59" d="M384.3,188.2L385.6,188.6L385.8,188.1L387.8,187.6L388.3,188.5L391.3,189.2L391.2,190.4L391.7,191.5L390,191.2L388.4,192.1L388.6,193.3L388.4,194.1L389.2,195.4L391.2,196.7L392.4,198.8L394.9,200.9L396.5,200.9L397.1,201.5L396.5,202L398.5,202.9L400.1,203.7L402,205L402.3,205.5L401.9,206.5L400.7,205.2L398.8,204.8L398,206.5L399.6,207.5L399.5,208.8L398.6,209L397.6,211.2L396.7,211.4L396.7,210.6L397,209.2L397.4,208.7L396.5,207.2L395.8,205.8L394.9,205.5L394.2,204.4L392.8,203.9L391.8,202.9L390.2,202.7L388.5,201.6L386.5,199.9L385,198.4L384.2,195.8L383.2,195.5L381.5,194.7L380.5,195L379.4,196.2L378.5,196.4L378.7,195.3L377.6,195L377,193L377.7,192.2L377,191.2L377.1,190.5L378,191L379,190.9L380.1,190.1L380.4,190.5L381.4,190.4L381.8,189.4L383.3,189.7L384.2,189.3ZM396.3,210.6L395.6,212.6L396,213.4L395.6,214.8L393.9,213.8L392.8,213.5L389.7,212.2L390,210.8L392.5,211.1L394.7,210.8ZM382.5,202.8L383.8,204.7L383.6,208.1L382.7,207.9L381.8,208.8L381,208.1L380.8,205L380.3,203.5L381.4,203.6Z"/>
<path fill="#fc8d59" d="M357.4,158.9L355.3,161.6L357.2,161.2L359.3,161.3L358.8,163.2L357,165.4L359,165.6L360.9,168.8L362.2,169.1L363.4,172L363.9,173L366.3,173.4L366.1,175L365.1,175.8L365.9,177.1L364.1,178.4L361.4,178.4L358,179L357.1,178.5L355.8,179.7L353.9,179.4L352.5,180.4L351.4,179.9L354.4,177.3L356.2,176.7L353.1,176.3L352.6,175.3L354.7,174.5L353.6,173.2L354.1,171.5L357,171.8L357.3,170.3L356,168.8L353.7,168.3L353.2,167.7L353.9,166.6L353.3,165.9L352.3,167L352.3,164.7L351.3,163.4L352.1,160.9L353.6,159L355.1,159.1ZM352.1,168.9L350.9,170.6L349.5,170.1L348.3,170.1L348.8,168.8L348.4,167.5L350.1,167.4Z"/>
<path fill="#fc8d59" d="M392.8,177.5L391.9,175.9L392,175.1L391.4,173.7L390.6,172.8L391,172.2L390.5,170.9L391.7,170.2L394.6,169L397,168.2L399,168.6L399.2,169.2L401.1,169.2L403.5,169.5L407,169.5L408.1,169.7L408.6,170.5L408.9,171.6L409.6,172.6L409.7,173.6L408.6,174.1L409.4,175.2L409.6,176.3L410.9,178.5L410.8,179.2L409.8,179.5L408.3,181.6L408.9,182.8L408.5,182.6L406.4,181.6L405,182L404.1,181.7L402.9,182.3L401.8,181.4L401,181.7L400.9,181.6L399.8,180.3L398.3,180.2L398.1,179.4L396.7,179.1L396.4,179.7L395.3,179.2L395.4,178.5L393.8,178.3Z"/>
<path fill="#fc8d59" d="M409.1,185.7L409.9,185.1L411.2,185.4L412.5,185.4L413.6,186L414.2,185.7L415.7,185.4L416.1,184.8L416.9,184.8L417.6,185.1L418.3,185.8L419.1,186.9L420.5,188.4L420.7,189.5L420.7,190.6L421.2,191.8L422.2,192.3L423.1,191.9L424.1,192.3L424.3,192.9L423.3,193.5L422.7,193.3L422.5,196.4L421.3,196.1L419.6,195.2L417.3,195.8L416.3,196.4L413.2,196.3L411.6,195.9L410.8,196.1L410.1,195L409.6,194.6L410.1,194.1L409.5,193.8L408.9,194.4L407.6,193.6L407.4,192.6L406,192L405.7,191.2L404.5,190.2L406.1,189.7L407.2,188L407.9,186.2Z"/>
<path fill="#fc8d59" d="M440.9,202.5L444.2,203.5L446.5,203.1L448.4,203.3L450.6,202L452.9,201.9L455.1,203.1L455.7,204L455.7,205.3L457.4,205.9L458.4,206.7L457.1,207.4L458.2,210.4L458,211.2L459.5,213.3L458.5,213.8L457.7,213.1L455.1,212.8L454.2,213.2L451.8,213.6L450.7,213.5L448.3,214.5L446.6,214.5L445.4,214L443.1,214.8L442.3,214.2L442.4,215.7L441.9,216.3L441.4,216.8L440.4,215.7L441.1,214.7L439.8,214.9L437.9,214.3L436.6,215.8L433.4,216.1L431.5,214.7L429.1,214.6L428.8,215.7L427.3,216L425,214.6L422.7,214.7L421.2,212.1L419.5,210.6L420.3,208.6L418.8,207.4L420.9,204.9L424.1,204.8L424.8,202.8L428.9,203.1L431.2,201.5L433.5,200.7L437,200.7ZM420.6,204.2L419,205.6L418.2,204.4L418.2,203.8L418.6,203.5L419.1,201.9L418,201.2L420.1,200.4L421.9,200.8L422.3,201.8L424.2,202.6L423.9,203.2L421.4,203.4Z"/>
<path fill="#ef6548" d="M572.2,252.8L572.5,254.7L571.6,254.3L572.1,256.4L571.2,255.1L570.9,253.7L570.3,252.5L569.1,250.9L567.1,250.8L567.4,251.9L566.9,253.4L565.9,252.8L565.6,253.3L564.9,253L564,252.8L563.4,250.6L562.3,248.7L562.4,247.1L560.9,246.4L561.3,245.4L562.5,244.5L560.7,243.1L561.1,241.3L563.1,242.5L564.2,242.6L564.7,244.4L566.9,244.8L569,244.7L570.4,245.2L569.7,247.4L568.7,247.5L568.3,249L569.7,250.3L569.8,248.7L570.4,248.7Z"/>
<path fill="#ef6548" d="M666.9,213.4L667.1,215.5L668.1,216.8L667.9,218.6L665.7,219.8L661.9,220L660.2,223L658.3,222L657.3,220L653.8,220.6L651.7,221.9L649.2,221.9L652.2,223.8L652.5,228.3L651.5,229.3L650.1,228.3L649.7,226L648,225.2L646.4,223.4L648.1,222.6L648.6,221L650.1,219.6L651,217.9L654.9,217.1L657.5,217.6L657.5,213L659.5,214.2L661.4,211.6L662,210.6L661.6,207.4L659.6,204.5L659.5,202.9L661.5,202.4L664.8,206L665.9,208.1L665.4,210.7ZM655,220.6L656.9,221.2L657.5,222.1L657,223.7L655.7,222.8L654.9,223.4L654.9,225L653.2,224.2L652.7,223L653.2,221.4L654.6,221.7ZM662.1,195.2L663.9,195.7L664.6,194.6L667.1,197.5L664.5,198.2L664.3,200.8L659.9,199L660.5,201.9L658.2,201.9L656.3,199.3L656,197.3L658.2,197.2L656.4,193.6L655.6,191.6L659.9,194.3Z"/>
<path fill="#ef6548" d="M376.5,171.6L376.8,171.1L378.5,170.9L378.8,171.5L380.1,170.2L379.6,169.3L379.4,167.9L380.9,168.2L382.1,167.9L382.2,168.8L384.2,169.4L384.3,170.3L386.2,169.8L387.2,169.1L389.5,170.1L390.5,170.9L391,172.2L390.6,172.8L391.4,173.7L392,175.1L391.9,175.9L392.8,177.5L392,177.8L391.4,177.5L391,178L389.6,178.5L388.9,179.1L387.5,179.6L387.9,180.4L388.1,181.4L389.2,182.1L390.4,183.1L389.8,184.3L389.1,184.6L389.5,186.3L389.3,186.7L388.7,186.2L387.7,186.1L386.3,186.6L384.4,186.5L384.2,187.2L383.1,186.5L382.5,186.6L380.3,185.8L379.9,186.4L378.2,186.3L378.4,184.5L379.3,182.8L376.4,182.3L375.4,181.7L375.5,180.6L375.1,180L375.3,178.3L374.8,175.7L376,175.7L376.5,174.7L376.9,172.4Z"/>
<path fill="#ef6548" d="M425.7,175L426.4,175.1L426.8,174.6L427.5,174.7L429.4,174.4L431,175.9L430.6,176.4L430.9,177.1L432.5,177.3L433.5,178.4L433.5,178.8L436.2,179.7L437.7,179.3L439.2,180.5L440.3,180.5L443.5,181.3L443.6,182.1L443.1,183.4L443.9,184.8L443.7,185.6L441.8,185.8L440.9,186.5L441,187.7L439.4,187.9L438.2,188.7L436.3,188.8L434.7,189.8L435.1,191.4L436.2,192L438.3,191.8L438.1,192.8L435.9,193.2L433.3,194.7L432.1,194.2L432.4,193L430,192.2L430.3,191.7L432.1,190.9L431.4,190.3L428.1,189.6L427.8,188.7L426,189L425.4,190.4L424.1,192.3L423.1,191.9L422.2,192.3L421.2,191.8L421.7,191.5L421.9,190.6L422.4,189.8L422.2,189.4L422.6,189.2L422.8,189.5L424,189.6L424.5,189.4L424.1,189.1L424.2,188.8L423.4,188.1L423,187L422.1,186.6L422.2,185.8L421.1,185.1L420.3,185L418.7,184.2L417.4,184.4L416.9,184.8L416.1,184.8L415.7,185.4L414.2,185.7L413.6,186L412.5,185.4L411.2,185.4L409.9,185.1L409.1,185.7L408.9,185L407.7,184.3L408,183.3L408.5,182.6L408.9,182.8L408.3,181.6L409.8,179.5L410.8,179.2L410.9,178.5L409.6,176.3L410.5,176.2L411.5,175.6L413,175.5L415,175.7L417.3,176.3L418.9,176.4L419.7,176.7L420.4,176.3L421,176.9L422.8,176.7L423.6,177L423.5,175.7L424,175.2Z"/>
<path fill="#d7301f" d="M115.3,182.8L121.1,182.8L127.8,182.8L134.5,182.8L141.2,182.8L147.9,182.8L154.7,182.8L161.4,182.8L171.1,182.8L171.6,181.9L172.3,181.8L172,183.2L173.7,183.8L175.6,184.2L177.2,185L179,184.7L181.2,185.4L184,184.6L189.5,188.2L190.6,189.2L191.3,190.2L191,190.9L192.7,192.1L191.7,196.7L190.5,198.3L188.2,200.6L189.2,201.6L192.2,200.2L194.5,199.8L197.7,198.6L197.8,197L198.9,196.6L202.8,196.6L203.9,195.6L207.1,193.5L208.2,193L215.1,193L215.6,192.4L217.3,191.9L218.4,190.7L219.7,188.7L222,186.8L222.4,187.4L223.9,187L224.6,187.8L223.4,191.3L224.3,192.7L224.4,193.5L221.8,194.8L219.3,195.7L216.9,196.4L215.2,198L214.7,198.5L214.2,199.9L214.5,201.3L215.4,201.4L215.4,200.4L215.9,201L215.5,201.7L213.9,202.1L212.9,202.1L211.2,202.5L209,202.8L207,203.6L210.3,203.1L210.7,203.6L207.5,204.3L206.2,204.3L205.5,204.7L206.1,204.8L205,206.7L202.9,208.7L202.9,208L202,207.3L202,208.7L202.4,209.1L202.1,210.1L201.2,211.1L199.4,213.2L199.2,213.1L200.4,211.3L199.6,210.3L200,208.2L199.2,209.3L199.2,211L197.9,210.5L199.1,211.4L198.5,213.8L199.1,214L199,214.9L198.7,217.5L196.8,219.5L194.3,220.3L192.5,221.8L191.4,222L190,222.9L189.5,223.8L186.6,225.5L185.1,226.7L183.7,228.3L182.9,230.1L182.9,231.9L183.2,234.2L183.8,236L183.6,237.2L184.1,240.2L183.7,241.9L183.5,243L182.6,244.6L181.9,244.9L180.9,244.6L180.7,243.4L179.9,242.8L179.1,240.6L178.5,238.6L178.3,237.5L179.1,235.8L178.8,234.4L177.5,232.2L176.8,231.8L174.3,233L173.9,232.8L173.1,231.6L171.9,231L169.3,231.3L167.4,231L165.7,231.2L164.7,231.6L164.9,232.3L164.6,233.4L164.9,233.9L164.4,234.2L163.7,233.8L162.8,234.3L161.2,234.3L159.8,232.9L157.8,233.2L156.4,232.6L154.9,232.8L152.9,233.4L150.4,235.3L148,236.5L146.5,237.7L145.7,238.9L145.3,240.7L145.1,241.9L145.4,242.8L144.5,242.9L143,242.3L141.4,241.5L141.1,240.3L141,238.5L140,237L139.6,235.4L138.9,233.7L137.7,232.6L135.8,232.7L133.9,234.7L132.3,233.9L131.3,233.2L131.2,231.7L130.8,230.4L129.8,229.2L129,228.4L128.4,227.5L124.6,227.5L124.3,228.5L122.5,228.5L118.2,228.6L113.7,226.7L110.8,225.4L111.2,224.9L108.4,225.2L105.8,225.4L105.9,224.1L105.1,222.6L104.1,222.3L104.2,221.5L103,221.4L102.5,220.7L100.6,220.4L100.2,220L100.5,218.6L99.5,216L99.3,212.3L99.7,211.7L99.2,210.9L98.5,208.7L99.3,206.6L98.9,205.2L100.5,203L101.6,200.8L102.1,198.8L104.3,196.4L106,194L107.6,191.7L109.3,188.3L110.1,186.1L110.2,184.9L110.8,184.4L113.2,185.3L112.8,187.7L113.7,187L114.7,184.9ZM109.5,130.2L109.3,131.2L110.6,130.8L113.2,130.9L112.4,131.4L114.4,131.8L116.3,131.6L118.9,132.3L121.8,132.5L122.7,132.7L125.4,132.4L127,133L128.4,133.4L120,140.3L111.8,147.5L104,154.9L105.7,155L106.8,155.7L107,156.7L107.1,158.3L110.2,157L112.9,156.2L112.6,157.4L112.9,158.4L113.6,159.5L113.1,161.2L112.6,164L114.5,165.5L113.2,167.1L111.1,168.3L110.8,167.4L109.8,166.6L111.1,164.4L110.5,162.5L111.6,160.2L109.9,160L107,160L105.5,159.3L104.1,156.8L102.8,156.3L100.5,155.5L97.7,155.7L95.3,154.6L94.2,153.6L91.6,154.1L90.2,155.7L89,155.9L86.3,156.4L83.8,157.2L81.2,157.7L82.5,156.3L85.9,153.9L88.7,153.2L88.8,152.6L85,153.9L82,155.5L77.4,157.2L77.5,158.4L73.9,160.1L70.7,161.1L68,161.9L66.4,163L62.1,164.2L60.3,165.4L57,166.4L55.8,166.2L53.3,166.9L50.5,167.8L48,168.6L43.9,169.3L44.1,168.9L47.4,167.7L50.1,166.9L53.6,165.6L56.3,165.3L58.3,164.3L62.5,162.9L63.5,162.4L65.8,161.5L68.1,159.7L70.7,158.3L67.7,159L67.6,158.6L65.6,159.5L65.7,158.2L64.2,159.1L64.9,157.9L61.9,158.9L60.8,158.9L62.3,157.4L63.7,156.5L63.5,155.7L60.6,156.1L60.4,155L59.8,154.4L61.4,153.1L61.3,152.1L63.7,150.7L66.8,149.4L69,148.2L70.6,148.1L71.4,148.4L74.2,147.3L75.3,147.5L77.6,146.8L78.5,145.7L78.1,145.3L80.5,144.4L79.4,144.4L76.9,144.9L75.7,145.4L75,144.9L72.2,145.2L70.3,144.6L70.8,143.7L70.4,142.4L74.2,141.4L79.5,140.3L81,140.3L79.2,141.5L83,141.4L83.4,140L82.5,139.1L82.8,138L82.5,137L81.2,136.3L83.8,135.2L86.9,135.1L90.5,134.1L92.4,133L95.6,132L97.6,131.7L102.2,130.8L103.4,130.9L107.7,129.8ZM75.3,160.6L76.4,160.7L76.4,161.5L73.5,162.6L70.6,163.6L70.3,162.9L71.2,161.8L73.9,160.9ZM58.1,146.7L58.6,147.2L60,147L60.7,147.6L62.1,147.9L61.6,148.1L59.6,148.6L58.9,148.1L58.8,147.7L57,147.8L56.9,147.6ZM57.4,154.8L58.6,155L57.6,155.9L56,156.3L55.4,155.8L55,155.2ZM9.9,260.6L9.5,261L9,260.6L9.2,259.9L9.1,258.9L9.3,258.7L9.8,258.2L9.7,257.7L9.9,257.5L11.2,258.2L11.5,258.5L11.9,259.4L10.8,260.1ZM9.7,256.5L8.9,256.7L8.4,255.9L8.4,255.7L8.7,255.5L9.4,255.8L9.9,256.2ZM6.6,254.7L6.4,254.9L5.5,254.7L5.3,254.1L5.3,254L6,253.7L6.1,253.8ZM3.2,253L2.8,253.2L2.2,252.8L2.4,252.6L2.8,252.3L3.3,252.4Z"/>
<path fill="#d7301f" d="M414.8,133.7L416.3,132.9L419.5,134.3L424.2,134.8L431.4,137.3L433.1,138.3L433.7,139.9L432.2,141L429.6,141.6L421.3,139.9L420.2,140.2L423.4,141.9L423.9,142.9L424.6,145.3L427.1,146L428.7,146.6L428.6,145.5L427.2,144.5L428.1,143.6L432.7,145L434.1,144.5L432.3,142.8L435.6,140.6L437.3,140.7L439.2,141.5L439.6,139.9L437.7,138.6L438,137.2L436.2,135.9L441.2,136.6L442.7,137.8L440.7,138.1L441.2,139.4L442.8,140.1L445.3,139.6L445.1,138.2L448.2,137.1L453.3,135.2L454.6,135.3L453.5,136.7L455.7,136.9L456.6,136.2L459.7,136.1L461.8,135.2L464.4,136.5L465.5,135L463.1,133.8L463.6,133L468.8,133.7L471.6,134.4L479.1,136.9L479.5,135.8L477.1,134.6L476.8,134.1L474.7,133.9L474.6,132.9L472.7,131.2L472.2,130.5L474,128.6L473.7,126.6L474.6,126.2L479.2,126.8L480.4,128L480.1,129.7L481.6,130.4L483.1,131.9L484.7,134.9L487.4,136.2L487.6,137.7L486.2,140.9L488.4,141.3L488.6,140.4L490.1,139.9L489.9,138.7L490.7,137.7L488.9,136.4L488.7,134.9L486.8,134.8L485.6,133.5L485.4,131.4L482.1,129.6L483.9,128.2L482.5,126.7L483.2,126.6L484.9,127.8L485.8,129.8L487.8,130.2L486,128.7L488,127.8L491.3,127.7L495.2,128.9L492.4,127.2L490.4,124.9L492.8,124.5L496.7,124.6L499.9,124.3L497.6,123.3L498.2,121.9L499.9,121.9L501.9,120.9L505.7,120.6L505.6,120.1L509.4,119.9L511.2,120.3L513.4,119.3L516.2,119.3L515.6,118.5L516,117.6L518.5,116.8L521.9,117.5L520.5,117.9L524.3,118.3L525.9,119.2L526.7,118.7L531.2,118.8L535.9,119.7L538.1,120.5L539.1,121.5L538.1,122.1L535.3,123.2L534.9,123.8L537.2,124.1L540.1,124.7L541.1,124.3L543.4,125.6L543.5,125.1L545.6,124.7L551.1,125.1L552.7,126.1L559.8,126.4L557.8,124.8L561.7,125.1L564.2,125.1L568.2,126.2L570.6,127.6L570.8,128.5L575,130.1L578.6,131L577.3,128.8L581.2,129.7L583.2,129.1L587.2,129.8L587.6,129.2L590.7,129.5L586.8,127.5L587.7,126.6L593.2,127.1L598.7,127.5L604.2,128L607.4,129.2L614,130.9L620.1,130.5L623.8,130.8L626.6,131.7L628.7,133.3L631.6,133.9L633.2,133.5L636.1,133.4L639.8,133.9L642.7,133.6L648.5,135.6L649.5,134.9L646,133.5L645.3,132.5L651.5,133.1L654.8,133L661.2,134L665.1,135L678.6,144L677.8,145L675.3,144.8L678.6,146.1L682.3,148L684,148.6L685.6,149.6L686,150.2L681.9,149.7L679.2,151.5L678,151.7L677.3,153.4L676.5,154.8L677.2,155.9L672.5,154.3L670,156.2L668.1,155.3L667.6,156.3L664.7,156L666,157.6L666.5,159.9L667.6,160.9L670.4,161.4L674.1,165L672.4,165.1L673.8,167.1L675.7,168.2L673.7,169.4L675.9,172.3L673.5,172.9L675.4,175.4L674.7,177.8L672.4,176L668.1,172.4L661.5,166.9L658.9,163.5L659,162L657.8,160.9L660.1,160.3L660,157.3L660.3,154.8L661.3,152.9L658.6,149.6L656.7,149.8L658,151.8L656.5,154.4L651.6,151.5L647.8,152.3L647.8,156.2L651,157.7L647.6,158.4L644.9,158.6L643.2,156.9L639.9,156.5L638.9,157.7L632.8,157.2L627.4,158L626,162.7L623.9,168.5L627.3,168.8L629.6,170.3L631.9,170.9L632.1,169.7L634.4,169.8L639.6,172.6L641.5,174.7L642,177.2L644.3,180.2L646.4,184.2L646,187.9L646.5,189.7L645.8,192.7L644.9,195.6L644.6,197.2L642.7,198.7L641.4,198.7L639.3,197.5L637.7,199.4L637.9,200.2L637.3,199.7L636.5,198.5L637.5,198.4L635.9,195.3L634,193.1L635.2,192.2L638,192.7L637.7,190.2L636.6,187.4L636.7,186.5L636.2,184.2L633.4,184.9L632.3,185.9L629.2,185.9L626.7,183.5L623.1,181.7L619.1,180.9L616.6,178.4L614.7,176.9L613.2,175.8L610,173.3L607.6,172.4L604.1,171.6L601.6,171.7L599.5,172.2L598.8,173.4L600.3,174L601.3,175.4L600.8,176.2L600.9,178.8L601.6,179.9L599.8,181.5L596.8,180.6L594.6,180.8L593,179.9L591.6,179.7L589.8,181.5L587.4,181.9L585.9,182.5L583.1,182.1L581.3,182.1L579.3,180.8L576.6,179.6L574.4,179.3L572.1,179.6L570.5,180.1L567,179L565.5,177.1L562.8,176.5L560.9,176.2L558,175.2L557.5,177.8L559.1,179.2L558.1,181L554.9,180.4L552.9,180.3L550.9,179.1L548.8,179L546.6,178.3L544.2,179.5L541.5,181.6L539.6,182.1L538.9,182.3L537.1,180.7L534.7,181.1L533.3,180L531.7,179.5L530,178.1L528.7,177.6L526.2,178.3L522.7,176.8L522.3,178.1L514.9,171.8L511.5,169.8L511.8,169.1L508,171.4L506.2,171.6L505.8,170.2L502.9,169.3L501.1,170L499.3,167.4L495.6,166.9L494.4,167.9L489.9,168.8L489.3,169.4L482.3,170.3L481.8,171.1L483.8,172.8L482.2,173.5L482.8,174.2L481.4,175.4L485.2,177.1L485.1,178.3L482.3,178.2L482,178.9L479,177.6L475.9,177.7L474.1,178.7L471.4,177.7L466.5,176L463.4,176.1L460.1,178.8L460.4,180.6L457.9,179.2L457,181.9L457.7,182.5L457.1,184.4L459.2,186.1L460.7,186L462.4,187.7L462.5,189.1L463.7,189.5L463.1,191L461.2,191.4L459.8,194.1L462.2,196.5L462.4,198.2L465.3,201.3L464.3,202.3L464.1,203L463.1,202.8L461.3,201.2L460.7,201.1L459.3,200.5L458.4,199.5L456.4,198.9L455.2,199.4L454.7,198.9L451.6,197.6L448.4,197.2L446.6,196.8L446.4,197.1L443.3,194.9L440.8,193.9L438.7,192.4L440.2,192L441.5,189.9L440.1,188.8L442.9,187.8L442.8,187.3L441,187.7L440.9,186.5L441.8,185.8L443.7,185.6L443.9,184.8L443.1,183.4L443.6,182.1L443.5,181.3L440.3,180.5L439.2,180.5L437.7,179.3L436.2,179.7L433.5,178.8L433.5,178.4L432.5,177.3L430.9,177.1L430.6,176.4L431,175.9L429.4,174.4L427.5,174.7L426.8,174.6L426.4,175.1L425.7,175L424.9,173.4L424.3,172.6L424.6,172.4L426.2,172.5L426.8,171.9L426.2,171.2L424.7,170.8L424.8,170.4L423.9,169.9L422.4,168.3L422.6,167.6L422.2,166.5L420.2,165.9L419.3,166.2L418.9,165.5L416.8,164.9L415.9,163.5L415.5,162.3L414.5,161.8L415.1,161L414.1,158.7L415.2,157.3L414.8,156.9L416.6,155.6L414.5,154.5L417.7,151.4L419.1,150.1L419.5,148.9L416.5,147.3L416.8,145.8L414.8,144L415.5,142.1L412.9,139.5L414,137.8L411.1,136.3L410.9,134.8L412.2,134.6ZM47.4,144L60.9,135L62.4,136.7L63.6,138.9L61.4,140.3L61.7,140.9L63.7,139.2L67.9,139.6L68.3,141.7L65.2,142.7L62,142.9L58.8,145.2L57.4,145.7L55.9,145.6L55.7,144.8L54.3,144.1L55.3,143.1L54.1,142.7L51.6,143L51.9,142.2L53.5,141.4L50.6,141.9L49.8,143.0ZM407,169.5L403.5,169.5L401.1,169.2L401.4,168.1L403.9,167.3L406,167.8L406.9,168.2L406.8,168.9ZM465.8,118.3L467.5,119.1L467,119.7L462.3,120.7L458.3,121.6L454.7,123.6L453.6,125.6L452.2,127.6L453.5,129.4L457.6,131.2L456.7,131.4L451.2,131.1L450.3,130.1L447,129.5L446.2,128.4L447.6,127.9L447,126.8L449.2,125L447.6,124.7L450.3,122.9L449.3,122L452.1,120.9L456.3,119.7L461.1,119.3L463.1,118.6ZM497.8,110.4L501.6,111.2L507.2,112.9L509.1,114.6L506.2,114.8L501.4,114.3L498.1,113.6L495.4,112.3L493,111.9L495.2,110.8ZM512.3,113.8L517.5,114.9L518.1,115.7L510.7,116.4L510.1,113.9L511,113.7ZM575,119.9L579.2,120L586.5,121L587.7,122.5L581.9,122.5L580,123L575,121.6L573.6,120.3ZM588.7,121.2L592.1,121.5L596.9,122L596.4,122.8L593.6,122.6L589.4,121.8ZM587.2,124.5L590.6,125.3L591.6,125.9L589.2,125.9L585.6,125.6L585.2,125.5L585.5,124.7ZM658.4,130.9L656.8,131L655.4,130.3L655.9,129.4ZM70.1,129.4L70.5,129.4L71.8,129.4L73.1,130L72.5,130.3L69.9,130.8L67.6,130.9ZM649.1,178.4L654.7,182.9L651,182.1L652.6,185.7L656.5,188.3L657.7,190.1L655,188.6L655.1,190.6L653.2,188.4L651.6,185.9L649.4,183.2L648.4,181.3L645.8,177.9L642.5,175.4L639.8,172L640.6,170.9L638.7,169.7L639.3,169.4L641.3,171L644.1,173.4L646.2,175.9ZM433.6,111L436,111.3L434.7,112.5L431.7,112.3L429.4,112.1L430.6,111.5L428.1,111.2L430.8,110.9Z"/>
<path fill="#990000" d="M532,217.7L535.1,220.8L535.4,222.9L536.7,224.2L536.9,225.6L535.2,225.2L536.5,228.1L539.1,229.7L542.6,231.6L541.4,232.7L541,235.2L543.4,236.2L545.7,237.4L548.9,238.9L552.1,239.3L553.6,240.6L555.4,240.8L558.2,241.4L560,241.4L560.1,240.4L559.5,238.7L559.4,237.6L560.6,237L561.3,239.1L561.4,239.6L563.6,240.6L565,240.2L566.9,240.4L568.7,240.3L568.5,238.7L567.4,237.9L569.2,237.5L570.7,235.6L572.9,233.9L574.9,234.6L576.3,233.5L577.7,235.1L577.2,236.2L579.7,236.6L580.1,237.6L579.4,238L580,239.7L578.3,239.2L575.7,241L576.1,242.5L575.3,244.7L575.4,245.9L574.8,248.1L572.9,247.5L573.3,250.2L572.9,251.1L573.3,252.2L572.2,252.8L570.4,248.7L569.8,248.7L569.7,250.3L568.3,249L568.7,247.5L569.7,247.4L570.4,245.2L569,244.7L566.9,244.8L564.7,244.4L564.2,242.6L563.1,242.5L561.1,241.3L560.7,243.1L562.5,244.5L561.3,245.4L560.9,246.4L562.4,247.1L562.3,248.7L563.4,250.6L564,252.8L563.8,253.7L562.3,253.7L559.6,254.2L560,256.2L559,257.8L555.9,259.5L553.8,262.6L552.3,264.2L550.2,265.9L550.3,267.1L549.3,267.8L547.3,268.7L546.2,268.9L545.8,270.9L546.5,274.2L546.8,276.4L546.1,278.9L546.4,283.3L545.2,283.5L544.3,285.5L545,286.3L542.9,287.1L542.2,288.9L541.4,289.6L539.1,287.2L537.8,283.5L536.8,280.9L535.9,279.6L534.5,277.1L533.7,273.9L533.1,272.2L530.7,268.6L529.3,263.6L528.3,260.2L527.9,257.1L527.2,254.6L524.1,256.2L522.5,255.9L519.1,252.7L520.1,251.8L519.4,250.7L516.5,248.5L517.7,246.8L522.7,246.8L522,244.5L520.5,243.2L520,241.2L518.3,240L520.4,237.3L523,237.5L524.8,234.8L525.7,232.1L527.3,229.5L526.9,227.6L528.4,226.1L526.4,224.8L525.2,223.1L523.9,220.8L524.6,219.6L528.1,220.3L530.4,219.9Z"/>
<path fill="#7f0000" d="M619.1,180.9L623.1,181.7L626.7,183.5L629.2,185.9L632.3,185.9L633.4,184.9L636.2,184.2L636.7,186.5L636.6,187.4L637.7,190.2L638,192.7L635.2,192.2L634,193.1L635.9,195.3L637.5,198.4L636.5,198.5L637.3,199.7L635,198.2L635.1,199.7L632.5,200.8L633.6,202.2L631.7,202.1L630.2,201.2L629.8,203.1L628.2,204.5L627.3,206.1L624.7,206.9L623.8,208.1L621.8,208.8L622.4,207.6L621.4,206.6L622.2,204.9L620.4,203.5L619,204.4L617.5,206.2L617,207.9L615,208L614.5,209.2L616.4,211L618.3,211.4L618.9,212.6L621,213.3L622.6,211.5L624.9,212.5L626.4,212.6L627.3,213.9L624.6,214.7L624.2,216.1L622.6,217.4L622.3,219.2L625.2,220.6L627.1,223.2L629.3,225.6L631.5,227.6L632.2,229.6L631,230.3L632,231.7L633.6,232.5L633.9,234.6L633.9,236.7L632.8,236.9L631.9,239.7L631,243.2L629.6,246.3L627,248.7L624.3,250.9L621.8,251.2L620.7,252.4L619.7,251.5L618.7,252.8L615.8,254.1L613.5,254.5L613.1,257.3L611.9,257.4L611,255.5L611.4,254.5L608.2,253.7L607.2,254.1L604.8,253.4L603.6,252.4L603.7,250.9L601.5,250.4L600.2,249.4L598.6,250.8L596.4,251.1L594.6,251.1L593.5,251.7L592.4,252.1L593.2,255.1L592,255L591.7,254.4L591.5,253.3L589.9,254.1L588.9,253.6L587,252.6L587.4,250.5L585.9,250L584.9,247.6L582.6,248L582.3,244.9L584,242.7L583.7,240.6L583.2,238.5L582.1,237.9L580.9,236.4L579.7,236.6L577.2,236.2L577.7,235.1L576.3,233.5L574.9,234.6L572.9,233.9L570.7,235.6L569.2,237.5L567.4,237.9L566.3,237.2L565.1,237.1L563.4,236.5L562.3,237.2L561.3,239.1L560.6,237L559.4,237.6L556.7,237.3L554.1,236.7L552.1,235.6L550.2,235.1L549.2,233.8L547.9,233.4L545.3,231.7L543.3,230.9L542.6,231.6L539.1,229.7L536.5,228.1L535.2,225.2L536.9,225.6L536.7,224.2L535.4,222.9L535.1,220.8L532,217.7L528.1,216.6L526.9,214.6L525,213.4L524.4,212.7L523.7,211.2L523.4,210.2L522,209.6L521.3,209.8L520.1,207.4L520.5,206.8L520.1,206.2L521.7,205L523,204.5L525.4,204.8L525.6,203.2L528.2,202.9L528.6,201.9L531.5,200.5L531.6,199.9L530.8,198.4L532,197.7L528.4,193.3L532.1,192.2L533,191.7L532.5,187.1L536.9,187.9L537.6,186.8L536.5,184.2L538.1,184L538.9,182.3L539.6,182.1L540.9,183.9L543.2,185.2L546.6,186.2L548.9,188.2L549.5,191.2L550.7,192.3L553.4,192.7L556.3,193.1L559.6,194.7L561,195L563,197.4L564.9,198.9L567.2,198.8L571.8,199.4L574.4,199.1L576.7,199.5L580.5,201L583,201L584.3,201.8L586.2,200.4L589.1,199.5L592.2,199.4L594.2,198.5L595,197.1L596,196.3L595.2,195.4L594,194.4L594.2,192.8L595.5,193L597.9,193.5L599.2,192.2L601.8,191.2L602.3,189.5L603.3,188.8L606.1,188.4L607.9,188.7L607.6,187.8L604.6,186L602.5,185.2L601.5,186.1L599.3,185.8L598.3,186.1L597.2,185L597,182.5L596.8,180.6L599.8,181.5L601.6,179.9L600.9,178.8L600.8,176.2L601.3,175.4L600.3,174L598.8,173.4L599.5,172.2L601.6,171.7L604.1,171.6L607.6,172.4L610,173.3L613.2,175.8L614.7,176.9L616.6,178.4ZM613.6,261.6L611.9,262.9L609.9,262.1L609.5,259.8L610.4,258.6L612.7,257.9L614,257.9L614.7,258.9L613.9,260.1Z"/>
<path fill="#fff7ec" d="M427.4,386L428.1,386.8L427.3,388.1L426.9,388.9L425.6,389.4L425.2,390.2L424.3,390.5L422.8,388.4L424.1,386.8L425.4,385.8L426.5,385.2Z"/>
</g>
<g id="legend">
<rect x="88.5" y="517.5" width="47.3" height="11" fill="url(#h2)" stroke="#c4c4c4" stroke-width="0.8"/>
<line x1="112.2" y1="514.5" x2="112.2" y2="517.5" stroke="#c4c4c4" stroke-width="0.8"/>
<text class="leg" x="112.2" y="509.6" text-anchor="middle">No data</text>
<rect x="155.30" y="517.5" width="60.63" height="11" fill="#fff7ec"/>
<rect x="215.93" y="517.5" width="60.63" height="11" fill="#fee8c8"/>
<rect x="276.56" y="517.5" width="60.63" height="11" fill="#fdd49e"/>
<rect x="337.19" y="517.5" width="60.63" height="11" fill="#fdbb84"/>
<rect x="397.82" y="517.5" width="60.63" height="11" fill="#fc8d59"/>
<rect x="458.45" y="517.5" width="60.63" height="11" fill="#ef6548"/>
<rect x="519.08" y="517.5" width="60.63" height="11" fill="#d7301f"/>
<rect x="579.71" y="517.5" width="60.63" height="11" fill="#b30000"/>
<rect x="640.34" y="517.5" width="60.63" height="11" fill="#990000"/>
<rect x="700.97" y="517.5" width="60.63" height="11" fill="#7f0000"/>
<rect x="155.30" y="517.5" width="606.30" height="11" fill="none" stroke="#9a9a9a" stroke-width="0.6"/>
<line x1="155.30" y1="514.3" x2="155.30" y2="528.5" stroke="#666" stroke-width="0.7"/>
<text class="leg" x="155.30" y="509.6" text-anchor="middle">0</text>
<line x1="215.93" y1="514.3" x2="215.93" y2="528.5" stroke="#666" stroke-width="0.7"/>
<text class="leg" x="215.93" y="509.6" text-anchor="middle">2,000</text>
<line x1="276.56" y1="514.3" x2="276.56" y2="528.5" stroke="#666" stroke-width="0.7"/>
<text class="leg" x="276.56" y="509.6" text-anchor="middle">5,000</text>
<line x1="337.19" y1="514.3" x2="337.19" y2="528.5" stroke="#666" stroke-width="0.7"/>
<text class="leg" x="337.19" y="509.6" text-anchor="middle">10,000</text>
<line x1="397.82" y1="514.3" x2="397.82" y2="528.5" stroke="#666" stroke-width="0.7"/>
<text class="leg" x="397.82" y="509.6" text-anchor="middle">20,000</text>
<line x1="458.45" y1="514.3" x2="458.45" y2="528.5" stroke="#666" stroke-width="0.7"/>
<text class="leg" x="458.45" y="509.6" text-anchor="middle">50,000</text>
<line x1="519.08" y1="514.3" x2="519.08" y2="528.5" stroke="#666" stroke-width="0.7"/>
<text class="leg" x="519.08" y="509.6" text-anchor="middle">100,000</text>
<line x1="579.71" y1="514.3" x2="579.71" y2="528.5" stroke="#666" stroke-width="0.7"/>
<text class="leg" x="579.71" y="509.6" text-anchor="middle">200,000</text>
<line x1="640.34" y1="514.3" x2="640.34" y2="528.5" stroke="#666" stroke-width="0.7"/>
<text class="leg" x="640.34" y="509.6" text-anchor="middle">500,000</text>
<line x1="700.97" y1="514.3" x2="700.97" y2="528.5" stroke="#666" stroke-width="0.7"/>
<text class="leg" x="700.97" y="509.6" text-anchor="middle">1 million</text>
<line x1="761.60" y1="514.3" x2="761.60" y2="528.5" stroke="#666" stroke-width="0.7"/>
<text class="leg" x="761.60" y="509.6" text-anchor="middle">2 million</text>
</g>
<text class="foot" x="16" y="561.2" font-weight="bold" textLength="72.8" lengthAdjust="spacingAndGlyphs">Data source:</text>
<text class="foot" x="92.4" y="561.2" textLength="685" lengthAdjust="spacing">Lelieveld et al. (2019). Effects of fossil fuel and total anthropogenic emission removal on public health and climate. PNAS.</text>
<text class="foot" x="16" y="580.3" textLength="237.5" lengthAdjust="spacing">OurWorldinData.org/air-pollution | CC BY</text>
</svg>
</body>
</html>
